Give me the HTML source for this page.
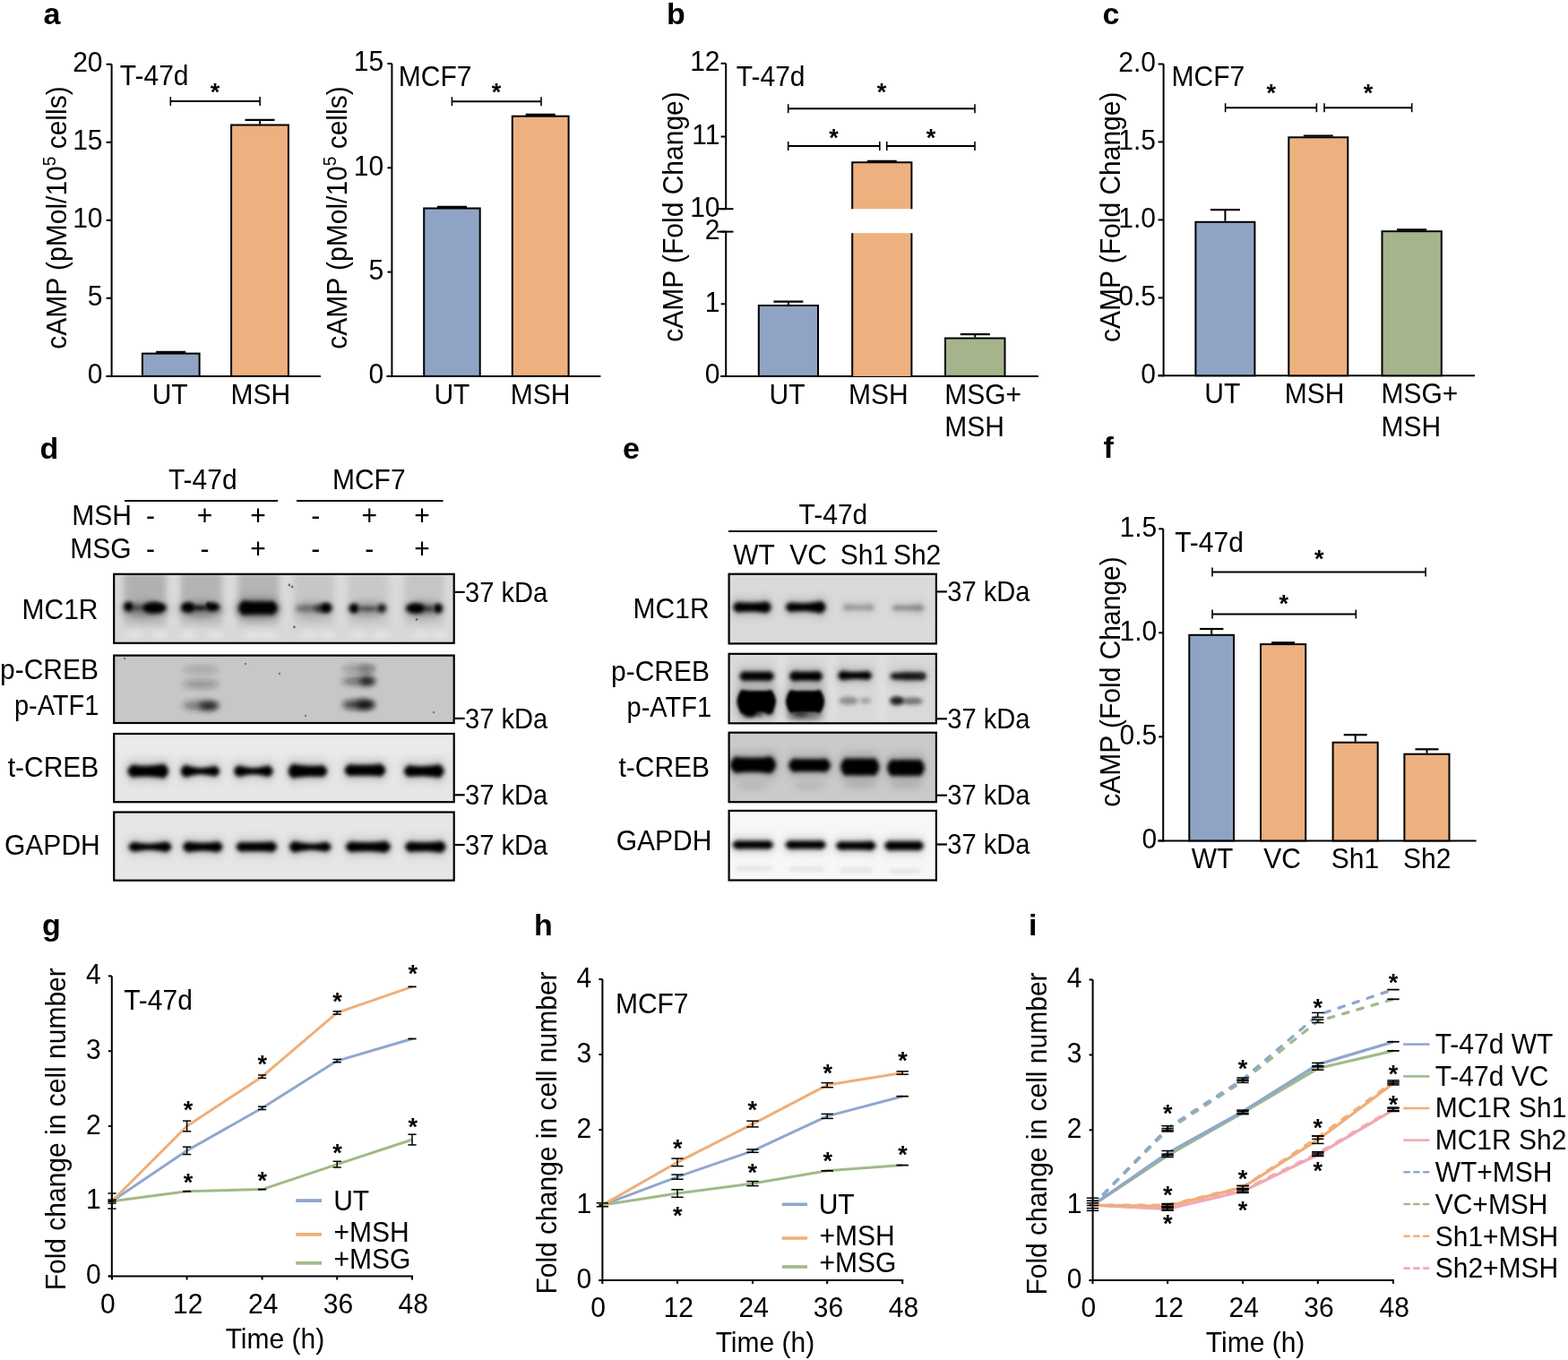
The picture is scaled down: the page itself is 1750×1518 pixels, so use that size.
<!DOCTYPE html>
<html><head><meta charset="utf-8"><title>Figure</title>
<style>html,body{margin:0;padding:0;background:#fff;} svg{display:block;} text{font-family:"Liberation Sans", Arial, Helvetica, sans-serif;fill:#000;}</style>
</head><body>
<svg width="1750" height="1518" viewBox="0 0 1750 1518">
<rect width="1750" height="1518" fill="#fff"/>
<defs>
<filter id="b1" x="-60%" y="-250%" width="220%" height="600%"><feGaussianBlur stdDeviation="0.7"/></filter>
<filter id="b15" x="-60%" y="-250%" width="220%" height="600%"><feGaussianBlur stdDeviation="1.5"/></filter>
<filter id="b2" x="-60%" y="-250%" width="220%" height="600%"><feGaussianBlur stdDeviation="2"/></filter>
<filter id="b3" x="-60%" y="-250%" width="220%" height="600%"><feGaussianBlur stdDeviation="3"/></filter>
<filter id="b4" x="-60%" y="-250%" width="220%" height="600%"><feGaussianBlur stdDeviation="4"/></filter>
<filter id="b5" x="-60%" y="-250%" width="220%" height="600%"><feGaussianBlur stdDeviation="5"/></filter>
</defs>
<text transform="translate(48.5,26.5) scale(1,1.0)" font-size="34" text-anchor="start" font-weight="bold" >a</text>
<line x1="124.6" y1="71.7" x2="124.6" y2="420.9" stroke="#000" stroke-width="2" />
<line x1="118.6" y1="419.9" x2="124.6" y2="419.9" stroke="#000" stroke-width="2" />
<text transform="translate(114.5,428.3) scale(1,1.05)" font-size="30" text-anchor="end" >0</text>
<line x1="118.6" y1="332.8" x2="124.6" y2="332.8" stroke="#000" stroke-width="2" />
<text transform="translate(114.5,341.2) scale(1,1.05)" font-size="30" text-anchor="end" >5</text>
<line x1="118.6" y1="245.8" x2="124.6" y2="245.8" stroke="#000" stroke-width="2" />
<text transform="translate(114.5,254.2) scale(1,1.05)" font-size="30" text-anchor="end" >10</text>
<line x1="118.6" y1="158.8" x2="124.6" y2="158.8" stroke="#000" stroke-width="2" />
<text transform="translate(114.5,167.2) scale(1,1.05)" font-size="30" text-anchor="end" >15</text>
<line x1="118.6" y1="71.7" x2="124.6" y2="71.7" stroke="#000" stroke-width="2" />
<text transform="translate(114.5,80.1) scale(1,1.05)" font-size="30" text-anchor="end" >20</text>
<line x1="118.6" y1="419.9" x2="357.9" y2="419.9" stroke="#000" stroke-width="2" />
<line x1="190.8" y1="393.6" x2="190.8" y2="392.9" stroke="#000" stroke-width="2" />
<line x1="174.2" y1="392.9" x2="207.2" y2="392.9" stroke="#000" stroke-width="2.2" />
<rect x="158.9" y="394.6" width="63.7" height="25.3" fill="#8FA4C4" stroke="#000" stroke-width="2"/>
<line x1="290.0" y1="138.5" x2="290.0" y2="133.8" stroke="#000" stroke-width="2" />
<line x1="273.5" y1="133.8" x2="306.5" y2="133.8" stroke="#000" stroke-width="2.2" />
<rect x="258.1" y="139.5" width="63.8" height="280.4" fill="#EDB17F" stroke="#000" stroke-width="2"/>
<line x1="190.3" y1="113.1" x2="290.1" y2="113.1" stroke="#000" stroke-width="2" />
<line x1="190.3" y1="108.1" x2="190.3" y2="118.1" stroke="#000" stroke-width="1.6" />
<line x1="290.1" y1="108.1" x2="290.1" y2="118.1" stroke="#000" stroke-width="1.6" />
<text x="240.0" y="112.3" font-size="27" font-weight="bold" text-anchor="middle">*</text>
<text transform="translate(133.8,95.3) scale(1,1.05)" font-size="30" text-anchor="start" >T-47d</text>
<text transform="translate(189.7,450.5) scale(1,1.05)" font-size="30" text-anchor="middle" >UT</text>
<text transform="translate(290.8,450.5) scale(1,1.05)" font-size="30" text-anchor="middle" >MSH</text>
<text transform="translate(73.5,243.0) rotate(-90) scale(1,1.05)" font-size="30" text-anchor="middle">cAMP (pMol/10<tspan font-size="19" dy="-11">5</tspan><tspan dy="11"> cells)</tspan></text>
<line x1="437.4" y1="71.0" x2="437.4" y2="420.9" stroke="#000" stroke-width="2" />
<line x1="432.4" y1="419.9" x2="437.4" y2="419.9" stroke="#000" stroke-width="2" />
<text transform="translate(428.1,428.3) scale(1,1.05)" font-size="30" text-anchor="end" >0</text>
<line x1="432.4" y1="303.6" x2="437.4" y2="303.6" stroke="#000" stroke-width="2" />
<text transform="translate(428.1,312.0) scale(1,1.05)" font-size="30" text-anchor="end" >5</text>
<line x1="432.4" y1="187.3" x2="437.4" y2="187.3" stroke="#000" stroke-width="2" />
<text transform="translate(428.1,195.7) scale(1,1.05)" font-size="30" text-anchor="end" >10</text>
<line x1="432.4" y1="71.0" x2="437.4" y2="71.0" stroke="#000" stroke-width="2" />
<text transform="translate(428.1,79.4) scale(1,1.05)" font-size="30" text-anchor="end" >15</text>
<line x1="431.4" y1="419.9" x2="670.4" y2="419.9" stroke="#000" stroke-width="2" />
<line x1="504.4" y1="231.5" x2="504.4" y2="230.8" stroke="#000" stroke-width="2" />
<line x1="487.9" y1="230.8" x2="521.0" y2="230.8" stroke="#000" stroke-width="2.2" />
<rect x="473.2" y="232.5" width="62.5" height="187.4" fill="#8FA4C4" stroke="#000" stroke-width="2"/>
<line x1="603.2" y1="128.7" x2="603.2" y2="127.9" stroke="#000" stroke-width="2" />
<line x1="586.7" y1="127.9" x2="619.7" y2="127.9" stroke="#000" stroke-width="2.2" />
<rect x="571.8" y="129.7" width="62.8" height="290.2" fill="#EDB17F" stroke="#000" stroke-width="2"/>
<line x1="504.4" y1="113.2" x2="604.0" y2="113.2" stroke="#000" stroke-width="2" />
<line x1="504.4" y1="108.2" x2="504.4" y2="118.2" stroke="#000" stroke-width="1.6" />
<line x1="604.0" y1="108.2" x2="604.0" y2="118.2" stroke="#000" stroke-width="1.6" />
<text x="554.0" y="112.3" font-size="27" font-weight="bold" text-anchor="middle">*</text>
<text transform="translate(444.8,95.5) scale(1,1.05)" font-size="30" text-anchor="start" >MCF7</text>
<text transform="translate(504.4,450.5) scale(1,1.05)" font-size="30" text-anchor="middle" >UT</text>
<text transform="translate(603.2,450.5) scale(1,1.05)" font-size="30" text-anchor="middle" >MSH</text>
<text transform="translate(386.5,243.0) rotate(-90) scale(1,1.05)" font-size="30" text-anchor="middle">cAMP (pMol/10<tspan font-size="19" dy="-11">5</tspan><tspan dy="11"> cells)</tspan></text>
<text transform="translate(744.0,26.5) scale(1,1.0)" font-size="34" text-anchor="start" font-weight="bold" >b</text>
<line x1="810.2" y1="70.8" x2="810.2" y2="233.2" stroke="#000" stroke-width="2" />
<line x1="810.2" y1="258.6" x2="810.2" y2="420.9" stroke="#000" stroke-width="2" />
<line x1="804.6" y1="70.8" x2="810.2" y2="70.8" stroke="#000" stroke-width="2" />
<text transform="translate(803.5,79.2) scale(1,1.05)" font-size="30" text-anchor="end" >12</text>
<line x1="804.6" y1="152.5" x2="810.2" y2="152.5" stroke="#000" stroke-width="2" />
<text transform="translate(803.5,160.9) scale(1,1.05)" font-size="30" text-anchor="end" >11</text>
<line x1="804.6" y1="233.2" x2="810.2" y2="233.2" stroke="#000" stroke-width="2" />
<text transform="translate(803.5,241.6) scale(1,1.05)" font-size="30" text-anchor="end" >10</text>
<line x1="804.6" y1="258.6" x2="810.2" y2="258.6" stroke="#000" stroke-width="2" />
<text transform="translate(803.5,267.0) scale(1,1.05)" font-size="30" text-anchor="end" >2</text>
<line x1="804.6" y1="339.3" x2="810.2" y2="339.3" stroke="#000" stroke-width="2" />
<text transform="translate(803.5,347.7) scale(1,1.05)" font-size="30" text-anchor="end" >1</text>
<line x1="804.6" y1="419.9" x2="810.2" y2="419.9" stroke="#000" stroke-width="2" />
<text transform="translate(803.5,428.3) scale(1,1.05)" font-size="30" text-anchor="end" >0</text>
<line x1="800.3" y1="233.2" x2="818.5" y2="233.2" stroke="#000" stroke-width="2" />
<line x1="800.3" y1="258.6" x2="818.5" y2="258.6" stroke="#000" stroke-width="2" />
<line x1="804.2" y1="419.9" x2="1159.0" y2="419.9" stroke="#000" stroke-width="2" />
<line x1="879.9" y1="340.0" x2="879.9" y2="336.6" stroke="#000" stroke-width="2" />
<line x1="863.4" y1="336.6" x2="896.4" y2="336.6" stroke="#000" stroke-width="2.2" />
<rect x="846.8" y="341.0" width="66.2" height="78.9" fill="#8FA4C4" stroke="#000" stroke-width="2"/>
<rect x="951.2" y="181.2" width="66.19999999999993" height="52" fill="#EDB17F"/>
<path d="M951.2 233.2 V181.2 H1017.4 V233.2" fill="none" stroke="#000" stroke-width="2"/>
<line x1="967.8" y1="179.8" x2="1000.8" y2="179.8" stroke="#000" stroke-width="2" />
<rect x="951.2" y="260.2" width="66.19999999999993" height="159.7" fill="#EDB17F"/>
<path d="M951.2 260.2 V419.9 M1017.4 260.2 V419.9" fill="none" stroke="#000" stroke-width="2"/>
<line x1="1088.2" y1="376.5" x2="1088.2" y2="373.2" stroke="#000" stroke-width="2" />
<line x1="1071.8" y1="373.2" x2="1104.8" y2="373.2" stroke="#000" stroke-width="2.2" />
<rect x="1055.0" y="377.5" width="66.5" height="42.4" fill="#A5B48B" stroke="#000" stroke-width="2"/>
<line x1="879.7" y1="121.2" x2="1088.0" y2="121.2" stroke="#000" stroke-width="2" />
<line x1="879.7" y1="116.2" x2="879.7" y2="126.2" stroke="#000" stroke-width="1.6" />
<line x1="1088.0" y1="116.2" x2="1088.0" y2="126.2" stroke="#000" stroke-width="1.6" />
<text x="984.0" y="111.6" font-size="27" font-weight="bold" text-anchor="middle">*</text>
<line x1="879.7" y1="163.0" x2="981.8" y2="163.0" stroke="#000" stroke-width="2" />
<line x1="879.7" y1="158.0" x2="879.7" y2="168.0" stroke="#000" stroke-width="1.6" />
<line x1="981.8" y1="158.0" x2="981.8" y2="168.0" stroke="#000" stroke-width="1.6" />
<line x1="989.7" y1="163.0" x2="1088.0" y2="163.0" stroke="#000" stroke-width="2" />
<line x1="989.7" y1="158.0" x2="989.7" y2="168.0" stroke="#000" stroke-width="1.6" />
<line x1="1088.0" y1="158.0" x2="1088.0" y2="168.0" stroke="#000" stroke-width="1.6" />
<text x="930.5" y="162.8" font-size="27" font-weight="bold" text-anchor="middle">*</text>
<text x="1039.0" y="162.8" font-size="27" font-weight="bold" text-anchor="middle">*</text>
<text transform="translate(821.8,95.5) scale(1,1.05)" font-size="30" text-anchor="start" >T-47d</text>
<text transform="translate(878.5,450.5) scale(1,1.05)" font-size="30" text-anchor="middle" >UT</text>
<text transform="translate(980.3,450.5) scale(1,1.05)" font-size="30" text-anchor="middle" >MSH</text>
<text transform="translate(1054.3,450.5) scale(1,1.05)" font-size="30" text-anchor="start" >MSG+</text>
<text transform="translate(1054.3,487.0) scale(1,1.05)" font-size="30" text-anchor="start" >MSH</text>
<text transform="translate(761.5,242.0) rotate(-90) scale(1,1.05)" font-size="30" text-anchor="middle">cAMP (Fold Change)</text>
<text transform="translate(1230.5,26.5) scale(1,1.0)" font-size="34" text-anchor="start" font-weight="bold" >c</text>
<line x1="1298.6" y1="71.5" x2="1298.6" y2="420.3" stroke="#000" stroke-width="2" />
<line x1="1292.6" y1="419.3" x2="1298.6" y2="419.3" stroke="#000" stroke-width="2" />
<text transform="translate(1289.9,427.7) scale(1,1.05)" font-size="30" text-anchor="end" >0</text>
<line x1="1292.6" y1="332.4" x2="1298.6" y2="332.4" stroke="#000" stroke-width="2" />
<text transform="translate(1289.9,340.8) scale(1,1.05)" font-size="30" text-anchor="end" >0.5</text>
<line x1="1292.6" y1="245.4" x2="1298.6" y2="245.4" stroke="#000" stroke-width="2" />
<text transform="translate(1289.9,253.8) scale(1,1.05)" font-size="30" text-anchor="end" >1.0</text>
<line x1="1292.6" y1="158.4" x2="1298.6" y2="158.4" stroke="#000" stroke-width="2" />
<text transform="translate(1289.9,166.8) scale(1,1.05)" font-size="30" text-anchor="end" >1.5</text>
<line x1="1292.6" y1="71.5" x2="1298.6" y2="71.5" stroke="#000" stroke-width="2" />
<text transform="translate(1289.9,79.9) scale(1,1.05)" font-size="30" text-anchor="end" >2.0</text>
<line x1="1292.6" y1="419.3" x2="1646.0" y2="419.3" stroke="#000" stroke-width="2" />
<line x1="1367.4" y1="246.8" x2="1367.4" y2="234.2" stroke="#000" stroke-width="2" />
<line x1="1350.9" y1="234.2" x2="1383.9" y2="234.2" stroke="#000" stroke-width="2.2" />
<rect x="1334.4" y="247.8" width="66.0" height="171.5" fill="#8FA4C4" stroke="#000" stroke-width="2"/>
<line x1="1471.3" y1="152.3" x2="1471.3" y2="151.5" stroke="#000" stroke-width="2" />
<line x1="1454.8" y1="151.5" x2="1487.8" y2="151.5" stroke="#000" stroke-width="2.2" />
<rect x="1438.3" y="153.3" width="66.0" height="266.0" fill="#EDB17F" stroke="#000" stroke-width="2"/>
<line x1="1575.6" y1="257.2" x2="1575.6" y2="256.4" stroke="#000" stroke-width="2" />
<line x1="1559.1" y1="256.4" x2="1592.1" y2="256.4" stroke="#000" stroke-width="2.2" />
<rect x="1542.5" y="258.2" width="66.3" height="161.1" fill="#A5B48B" stroke="#000" stroke-width="2"/>
<line x1="1367.6" y1="120.2" x2="1469.4" y2="120.2" stroke="#000" stroke-width="2" />
<line x1="1367.6" y1="115.2" x2="1367.6" y2="125.2" stroke="#000" stroke-width="1.6" />
<line x1="1469.4" y1="115.2" x2="1469.4" y2="125.2" stroke="#000" stroke-width="1.6" />
<line x1="1478.0" y1="120.2" x2="1575.7" y2="120.2" stroke="#000" stroke-width="2" />
<line x1="1478.0" y1="115.2" x2="1478.0" y2="125.2" stroke="#000" stroke-width="1.6" />
<line x1="1575.7" y1="115.2" x2="1575.7" y2="125.2" stroke="#000" stroke-width="1.6" />
<text x="1418.8" y="113.3" font-size="27" font-weight="bold" text-anchor="middle">*</text>
<text x="1526.9" y="113.3" font-size="27" font-weight="bold" text-anchor="middle">*</text>
<text transform="translate(1307.6,95.8) scale(1,1.05)" font-size="30" text-anchor="start" >MCF7</text>
<text transform="translate(1364.3,449.8) scale(1,1.05)" font-size="30" text-anchor="middle" >UT</text>
<text transform="translate(1467.0,449.8) scale(1,1.05)" font-size="30" text-anchor="middle" >MSH</text>
<text transform="translate(1541.4,449.8) scale(1,1.05)" font-size="30" text-anchor="start" >MSG+</text>
<text transform="translate(1541.4,487.0) scale(1,1.05)" font-size="30" text-anchor="start" >MSH</text>
<text transform="translate(1249.8,242.3) rotate(-90) scale(1,1.05)" font-size="30" text-anchor="middle">cAMP (Fold Change)</text>
<text transform="translate(1231.5,511.0) scale(1,1.0)" font-size="34" text-anchor="start" font-weight="bold" >f</text>
<line x1="1298.2" y1="590.3" x2="1298.2" y2="939.4" stroke="#000" stroke-width="2" />
<line x1="1293.2" y1="938.4" x2="1298.2" y2="938.4" stroke="#000" stroke-width="2" />
<text transform="translate(1291.2,946.8) scale(1,1.05)" font-size="30" text-anchor="end" >0</text>
<line x1="1293.2" y1="822.4" x2="1298.2" y2="822.4" stroke="#000" stroke-width="2" />
<text transform="translate(1291.2,830.8) scale(1,1.05)" font-size="30" text-anchor="end" >0.5</text>
<line x1="1293.2" y1="706.3" x2="1298.2" y2="706.3" stroke="#000" stroke-width="2" />
<text transform="translate(1291.2,714.7) scale(1,1.05)" font-size="30" text-anchor="end" >1.0</text>
<line x1="1293.2" y1="590.3" x2="1298.2" y2="590.3" stroke="#000" stroke-width="2" />
<text transform="translate(1291.2,598.7) scale(1,1.05)" font-size="30" text-anchor="end" >1.5</text>
<line x1="1292.2" y1="938.4" x2="1647.6" y2="938.4" stroke="#000" stroke-width="2" />
<line x1="1352.2" y1="707.8" x2="1352.2" y2="702.0" stroke="#000" stroke-width="2" />
<line x1="1339.0" y1="702.0" x2="1365.4" y2="702.0" stroke="#000" stroke-width="2.2" />
<rect x="1327.3" y="708.8" width="49.7" height="229.6" fill="#8FA4C4" stroke="#000" stroke-width="2"/>
<line x1="1432.1" y1="718.1" x2="1432.1" y2="717.3" stroke="#000" stroke-width="2" />
<line x1="1419.1" y1="717.3" x2="1445.1" y2="717.3" stroke="#000" stroke-width="2.2" />
<rect x="1407.0" y="719.1" width="50.2" height="219.3" fill="#EDB17F" stroke="#000" stroke-width="2"/>
<line x1="1512.7" y1="827.7" x2="1512.7" y2="820.2" stroke="#000" stroke-width="2" />
<line x1="1499.7" y1="820.2" x2="1525.7" y2="820.2" stroke="#000" stroke-width="2.2" />
<rect x="1487.6" y="828.7" width="50.1" height="109.7" fill="#EDB17F" stroke="#000" stroke-width="2"/>
<line x1="1592.5" y1="840.7" x2="1592.5" y2="836.3" stroke="#000" stroke-width="2" />
<line x1="1579.5" y1="836.3" x2="1605.5" y2="836.3" stroke="#000" stroke-width="2.2" />
<rect x="1567.4" y="841.7" width="50.1" height="96.7" fill="#EDB17F" stroke="#000" stroke-width="2"/>
<line x1="1353.0" y1="638.6" x2="1591.1" y2="638.6" stroke="#000" stroke-width="2" />
<line x1="1353.0" y1="633.6" x2="1353.0" y2="643.6" stroke="#000" stroke-width="1.6" />
<line x1="1591.1" y1="633.6" x2="1591.1" y2="643.6" stroke="#000" stroke-width="1.6" />
<text x="1472.2" y="632.6" font-size="27" font-weight="bold" text-anchor="middle">*</text>
<line x1="1353.0" y1="685.5" x2="1513.3" y2="685.5" stroke="#000" stroke-width="2" />
<line x1="1353.0" y1="680.5" x2="1353.0" y2="690.5" stroke="#000" stroke-width="1.6" />
<line x1="1513.3" y1="680.5" x2="1513.3" y2="690.5" stroke="#000" stroke-width="1.6" />
<text x="1432.8" y="682.8" font-size="27" font-weight="bold" text-anchor="middle">*</text>
<text transform="translate(1311.2,616.3) scale(1,1.05)" font-size="30" text-anchor="start" >T-47d</text>
<text transform="translate(1353.0,969.0) scale(1,1.05)" font-size="30" text-anchor="middle" >WT</text>
<text transform="translate(1431.0,969.0) scale(1,1.05)" font-size="30" text-anchor="middle" >VC</text>
<text transform="translate(1512.5,969.0) scale(1,1.05)" font-size="30" text-anchor="middle" >Sh1</text>
<text transform="translate(1592.7,969.0) scale(1,1.05)" font-size="30" text-anchor="middle" >Sh2</text>
<text transform="translate(1250.0,761.0) rotate(-90) scale(1,1.05)" font-size="30" text-anchor="middle">cAMP (Fold Change)</text>
<text transform="translate(44.5,512.0) scale(1,1.0)" font-size="34" text-anchor="start" font-weight="bold" >d</text>
<text transform="translate(226.3,545.8) scale(1,1.05)" font-size="30" text-anchor="middle" >T-47d</text>
<line x1="139.0" y1="559.0" x2="310.0" y2="559.0" stroke="#000" stroke-width="2" />
<text transform="translate(411.8,545.8) scale(1,1.05)" font-size="30" text-anchor="middle" >MCF7</text>
<line x1="331.0" y1="559.0" x2="494.5" y2="559.0" stroke="#000" stroke-width="2" />
<text transform="translate(147.0,586.0) scale(1,1.05)" font-size="30" text-anchor="end" >MSH</text>
<text transform="translate(146.5,622.8) scale(1,1.05)" font-size="30" text-anchor="end" >MSG</text>
<text transform="translate(168.0,586.0) scale(1,1.05)" font-size="30" text-anchor="middle" >-</text>
<text transform="translate(228.6,586.0) scale(1,1.05)" font-size="30" text-anchor="middle" >+</text>
<text transform="translate(287.9,586.0) scale(1,1.05)" font-size="30" text-anchor="middle" >+</text>
<text transform="translate(352.2,586.0) scale(1,1.05)" font-size="30" text-anchor="middle" >-</text>
<text transform="translate(412.2,586.0) scale(1,1.05)" font-size="30" text-anchor="middle" >+</text>
<text transform="translate(471.1,586.0) scale(1,1.05)" font-size="30" text-anchor="middle" >+</text>
<text transform="translate(168.0,623.4) scale(1,1.05)" font-size="30" text-anchor="middle" >-</text>
<text transform="translate(228.6,623.4) scale(1,1.05)" font-size="30" text-anchor="middle" >-</text>
<text transform="translate(287.9,623.4) scale(1,1.05)" font-size="30" text-anchor="middle" >+</text>
<text transform="translate(352.2,623.4) scale(1,1.05)" font-size="30" text-anchor="middle" >-</text>
<text transform="translate(412.2,623.4) scale(1,1.05)" font-size="30" text-anchor="middle" >-</text>
<text transform="translate(471.1,623.4) scale(1,1.05)" font-size="30" text-anchor="middle" >+</text>
<clipPath id="cp1"><rect x="127.2" y="640.8" width="379.5" height="77.0"/></clipPath>
<g clip-path="url(#cp1)"><rect x="126.2" y="639.8" width="381.5" height="79.0" fill="#D3D3D3"/>
<rect x="138" y="638" width="48" height="36" fill="#B0B0B0" filter="url(#b4)"/>
<rect x="138" y="672" width="48" height="30" fill="#BFBFBF" filter="url(#b4)"/>
<rect x="200" y="638" width="48" height="36" fill="#B3B3B3" filter="url(#b4)"/>
<rect x="200" y="672" width="48" height="30" fill="#C1C1C1" filter="url(#b4)"/>
<rect x="265" y="638" width="47" height="36" fill="#B5B5B5" filter="url(#b4)"/>
<rect x="265" y="672" width="47" height="30" fill="#C3C3C3" filter="url(#b4)"/>
<rect x="328" y="638" width="44" height="36" fill="#C6C6C6" filter="url(#b4)"/>
<rect x="328" y="672" width="44" height="30" fill="#C9C9C9" filter="url(#b4)"/>
<rect x="388" y="638" width="44" height="36" fill="#C8C8C8" filter="url(#b4)"/>
<rect x="388" y="672" width="44" height="30" fill="#CBCBCB" filter="url(#b4)"/>
<rect x="452" y="638" width="43" height="36" fill="#C5C5C5" filter="url(#b4)"/>
<rect x="452" y="672" width="43" height="30" fill="#C9C9C9" filter="url(#b4)"/>
<rect x="122" y="636" width="12" height="90" fill="#DADADA" filter="url(#b3)"/>
<rect x="188" y="636" width="12" height="90" fill="#DADADA" filter="url(#b3)"/>
<rect x="251" y="636" width="12" height="90" fill="#DADADA" filter="url(#b3)"/>
<rect x="314" y="636" width="12" height="90" fill="#DADADA" filter="url(#b3)"/>
<rect x="375" y="636" width="12" height="90" fill="#DADADA" filter="url(#b3)"/>
<rect x="437" y="636" width="12" height="90" fill="#DADADA" filter="url(#b3)"/>
<rect x="498" y="636" width="12" height="90" fill="#DADADA" filter="url(#b3)"/>
<rect x="126" y="700" width="382" height="20" fill="#D8D8D8" filter="url(#b4)"/>
<ellipse cx="150.0" cy="709.0" rx="9.0" ry="5.0" fill="#E6E6E6" fill-opacity="0.8" filter="url(#b3)"/>
<ellipse cx="178.0" cy="709.0" rx="9.0" ry="5.0" fill="#E6E6E6" fill-opacity="0.8" filter="url(#b3)"/>
<ellipse cx="210.0" cy="709.0" rx="9.0" ry="5.0" fill="#E6E6E6" fill-opacity="0.8" filter="url(#b3)"/>
<ellipse cx="240.0" cy="709.0" rx="9.0" ry="5.0" fill="#E6E6E6" fill-opacity="0.8" filter="url(#b3)"/>
<ellipse cx="282.0" cy="709.0" rx="9.0" ry="5.0" fill="#E6E6E6" fill-opacity="0.8" filter="url(#b3)"/>
<ellipse cx="300.0" cy="709.0" rx="9.0" ry="5.0" fill="#E6E6E6" fill-opacity="0.8" filter="url(#b3)"/>
<ellipse cx="345.0" cy="709.0" rx="9.0" ry="5.0" fill="#E6E6E6" fill-opacity="0.8" filter="url(#b3)"/>
<ellipse cx="365.0" cy="709.0" rx="9.0" ry="5.0" fill="#E6E6E6" fill-opacity="0.8" filter="url(#b3)"/>
<ellipse cx="400.0" cy="709.0" rx="9.0" ry="5.0" fill="#E6E6E6" fill-opacity="0.8" filter="url(#b3)"/>
<ellipse cx="425.0" cy="709.0" rx="9.0" ry="5.0" fill="#E6E6E6" fill-opacity="0.8" filter="url(#b3)"/>
<ellipse cx="470.0" cy="709.0" rx="9.0" ry="5.0" fill="#E6E6E6" fill-opacity="0.8" filter="url(#b3)"/>
<ellipse cx="490.0" cy="709.0" rx="9.0" ry="5.0" fill="#E6E6E6" fill-opacity="0.8" filter="url(#b3)"/>
<ellipse cx="162.0" cy="680.0" rx="26.0" ry="9.0" fill="#000" fill-opacity="0.35" filter="url(#b4)"/>
<ellipse cx="224.0" cy="680.0" rx="25.0" ry="9.0" fill="#000" fill-opacity="0.35" filter="url(#b4)"/>
<ellipse cx="288.0" cy="680.0" rx="25.0" ry="9.0" fill="#000" fill-opacity="0.4" filter="url(#b4)"/>
<ellipse cx="350.0" cy="680.0" rx="22.0" ry="9.0" fill="#000" fill-opacity="0.2" filter="url(#b4)"/>
<ellipse cx="410.0" cy="680.0" rx="22.0" ry="9.0" fill="#000" fill-opacity="0.25" filter="url(#b4)"/>
<ellipse cx="473.0" cy="680.0" rx="22.0" ry="9.0" fill="#000" fill-opacity="0.3" filter="url(#b4)"/>
<ellipse cx="143.5" cy="677.0" rx="5.5" ry="5.5" fill="#000" fill-opacity="1.0" filter="url(#b2)"/>
<ellipse cx="153.0" cy="678.0" rx="6.0" ry="3.0" fill="#222" fill-opacity="0.6" filter="url(#b2)"/>
<ellipse cx="172.0" cy="678.3" rx="13.5" ry="6.5" fill="#000" fill-opacity="1.0" filter="url(#b2)"/>
<ellipse cx="210.0" cy="678.0" rx="8.0" ry="6.0" fill="#000" fill-opacity="1.0" filter="url(#b2)"/>
<ellipse cx="223.0" cy="678.5" rx="8.0" ry="2.8" fill="#000" fill-opacity="0.9" filter="url(#b2)"/>
<ellipse cx="237.0" cy="677.5" rx="8.0" ry="5.0" fill="#000" fill-opacity="1.0" filter="url(#b2)"/>
<ellipse cx="232.6" cy="674.5" rx="1.8" ry="2.2" fill="#000" fill-opacity="1" filter="url(#b15)"/>
<path d="M266.5,678.5 C266.5,676.0 269.0,672.2 270.8,671.0 C272.6,669.8 274.4,671.1 277.2,671.2 C280.1,671.3 284.4,671.5 288.0,671.5 C291.6,671.5 295.9,671.5 298.8,671.5 C301.6,671.5 303.4,670.3 305.2,671.5 C307.0,672.7 309.5,676.2 309.5,678.5 C309.5,680.8 307.0,684.3 305.2,685.5 C303.4,686.7 301.6,685.5 298.8,685.5 C295.9,685.5 291.6,685.5 288.0,685.5 C284.4,685.5 280.1,685.7 277.2,685.8 C274.4,685.9 272.6,687.2 270.8,686.0 C269.0,684.8 266.5,681.0 266.5,678.5Z" fill="#000" fill-opacity="0.22" filter="url(#b4)" transform="translate(288.0,678.5) scale(1.08,1.5) translate(-288.0,-678.5)"/>
<path d="M266.5,678.5 C266.5,676.0 269.0,672.2 270.8,671.0 C272.6,669.8 274.4,671.1 277.2,671.2 C280.1,671.3 284.4,671.5 288.0,671.5 C291.6,671.5 295.9,671.5 298.8,671.5 C301.6,671.5 303.4,670.3 305.2,671.5 C307.0,672.7 309.5,676.2 309.5,678.5 C309.5,680.8 307.0,684.3 305.2,685.5 C303.4,686.7 301.6,685.5 298.8,685.5 C295.9,685.5 291.6,685.5 288.0,685.5 C284.4,685.5 280.1,685.7 277.2,685.8 C274.4,685.9 272.6,687.2 270.8,686.0 C269.0,684.8 266.5,681.0 266.5,678.5Z" fill="#000" fill-opacity="1" filter="url(#b2)"/>
<ellipse cx="342.0" cy="679.0" rx="12.0" ry="4.0" fill="#333" fill-opacity="0.45" filter="url(#b2)"/>
<ellipse cx="356.0" cy="679.0" rx="6.0" ry="4.5" fill="#111" fill-opacity="0.7" filter="url(#b2)"/>
<ellipse cx="364.0" cy="678.5" rx="6.5" ry="6.0" fill="#000" fill-opacity="1.0" filter="url(#b2)"/>
<ellipse cx="395.0" cy="679.0" rx="5.5" ry="5.5" fill="#000" fill-opacity="1.0" filter="url(#b2)"/>
<ellipse cx="410.0" cy="679.5" rx="12.0" ry="2.6" fill="#222" fill-opacity="0.7" filter="url(#b2)"/>
<ellipse cx="426.0" cy="679.0" rx="5.0" ry="5.0" fill="#111" fill-opacity="0.9" filter="url(#b2)"/>
<ellipse cx="464.0" cy="679.0" rx="11.0" ry="6.0" fill="#000" fill-opacity="1.0" filter="url(#b2)"/>
<ellipse cx="478.0" cy="679.5" rx="6.0" ry="3.5" fill="#222" fill-opacity="0.75" filter="url(#b2)"/>
<ellipse cx="489.0" cy="679.0" rx="5.0" ry="5.5" fill="#000" fill-opacity="1.0" filter="url(#b2)"/>
<ellipse cx="322.8" cy="653.0" rx="1.4" ry="1.4" fill="#444" fill-opacity="0.7" filter="url(#b1)"/>
<ellipse cx="326.0" cy="655.0" rx="1.4" ry="1.4" fill="#444" fill-opacity="0.7" filter="url(#b1)"/>
<ellipse cx="328.5" cy="700.0" rx="1.4" ry="1.4" fill="#444" fill-opacity="0.7" filter="url(#b1)"/>
<ellipse cx="465.0" cy="691.5" rx="1.4" ry="1.4" fill="#444" fill-opacity="0.7" filter="url(#b1)"/>
</g>
<rect x="127.2" y="640.8" width="379.5" height="77.0" fill="none" stroke="#000" stroke-width="2.2"/>
<clipPath id="cp2"><rect x="127.2" y="731.6" width="379.5" height="75.39999999999998"/></clipPath>
<g clip-path="url(#cp2)"><rect x="126.2" y="730.6" width="381.5" height="77.39999999999998" fill="#C7C7C7"/>
<ellipse cx="224.0" cy="747.7" rx="20.0" ry="4.5" fill="#222" fill-opacity="0.2" filter="url(#b3)"/>
<ellipse cx="224.0" cy="763.7" rx="20.0" ry="4.8" fill="#222" fill-opacity="0.3" filter="url(#b3)"/>
<ellipse cx="224.0" cy="787.5" rx="20.0" ry="5.5" fill="#222" fill-opacity="0.45" filter="url(#b3)"/>
<ellipse cx="233.0" cy="787.8" rx="11.0" ry="5.0" fill="#000" fill-opacity="0.7" filter="url(#b3)"/>
<ellipse cx="400.0" cy="746.6" rx="18.0" ry="4.5" fill="#222" fill-opacity="0.3" filter="url(#b3)"/>
<ellipse cx="410.0" cy="746.6" rx="9.0" ry="4.2" fill="#111" fill-opacity="0.35" filter="url(#b3)"/>
<ellipse cx="400.0" cy="760.3" rx="18.0" ry="5.0" fill="#222" fill-opacity="0.5" filter="url(#b3)"/>
<ellipse cx="410.0" cy="760.3" rx="9.0" ry="5.0" fill="#000" fill-opacity="0.75" filter="url(#b3)"/>
<ellipse cx="400.0" cy="786.6" rx="18.0" ry="5.5" fill="#111" fill-opacity="0.75" filter="url(#b3)"/>
<ellipse cx="408.0" cy="786.6" rx="10.0" ry="5.0" fill="#000" fill-opacity="0.75" filter="url(#b3)"/>
<ellipse cx="139.0" cy="735.0" rx="1.2" ry="1.2" fill="#444" fill-opacity="0.6" filter="url(#b1)"/>
<ellipse cx="274.0" cy="741.0" rx="1.2" ry="1.2" fill="#444" fill-opacity="0.6" filter="url(#b1)"/>
<ellipse cx="312.0" cy="752.0" rx="1.2" ry="1.2" fill="#444" fill-opacity="0.6" filter="url(#b1)"/>
<ellipse cx="341.0" cy="799.0" rx="1.2" ry="1.2" fill="#444" fill-opacity="0.6" filter="url(#b1)"/>
<ellipse cx="484.0" cy="795.0" rx="1.2" ry="1.2" fill="#444" fill-opacity="0.6" filter="url(#b1)"/>
</g>
<rect x="127.2" y="731.6" width="379.5" height="75.39999999999998" fill="none" stroke="#000" stroke-width="2.2"/>
<clipPath id="cp3"><rect x="127.2" y="819" width="379.5" height="76.20000000000005"/></clipPath>
<g clip-path="url(#cp3)"><rect x="126.2" y="818" width="381.5" height="78.20000000000005" fill="#E6E6E6"/>
<rect x="126" y="818" width="382" height="25" fill="#EBEBEB" filter="url(#b4)"/>
<path d="M142.4,860.7 C142.4,858.5 145.1,855.2 147.0,854.2 C148.9,853.2 150.8,854.3 153.8,854.4 C156.8,854.5 161.4,854.8 165.2,854.7 C169.0,854.6 173.6,854.1 176.6,853.8 C179.6,853.6 181.5,852.1 183.4,853.2 C185.3,854.4 188.0,858.2 188.0,860.7 C188.0,863.2 185.3,867.1 183.4,868.2 C181.5,869.4 179.6,867.9 176.6,867.6 C173.6,867.4 169.0,866.8 165.2,866.7 C161.4,866.6 156.8,866.9 153.8,867.0 C150.8,867.1 148.9,868.2 147.0,867.2 C145.1,866.2 142.4,862.9 142.4,860.7Z" fill="#000" fill-opacity="0.22" filter="url(#b4)" transform="translate(165.2,860.7) scale(1.08,1.5) translate(-165.2,-860.7)"/>
<path d="M142.4,860.7 C142.4,858.5 145.1,855.2 147.0,854.2 C148.9,853.2 150.8,854.3 153.8,854.4 C156.8,854.5 161.4,854.8 165.2,854.7 C169.0,854.6 173.6,854.1 176.6,853.8 C179.6,853.6 181.5,852.1 183.4,853.2 C185.3,854.4 188.0,858.2 188.0,860.7 C188.0,863.2 185.3,867.1 183.4,868.2 C181.5,869.4 179.6,867.9 176.6,867.6 C173.6,867.4 169.0,866.8 165.2,866.7 C161.4,866.6 156.8,866.9 153.8,867.0 C150.8,867.1 148.9,868.2 147.0,867.2 C145.1,866.2 142.4,862.9 142.4,860.7Z" fill="#000" fill-opacity="1.0" filter="url(#b2)"/>
<path d="M201.8,860.7 C201.8,858.5 204.3,855.1 206.1,854.2 C207.9,853.3 209.8,854.9 212.7,855.4 C215.5,855.9 219.9,857.1 223.5,857.2 C227.1,857.3 231.5,856.3 234.3,856.0 C237.2,855.7 239.1,854.4 240.9,855.2 C242.7,856.0 245.2,858.9 245.2,860.7 C245.2,862.5 242.7,865.4 240.9,866.2 C239.1,867.0 237.2,865.7 234.3,865.4 C231.5,865.1 227.1,864.1 223.5,864.2 C219.9,864.3 215.5,865.5 212.7,866.0 C209.8,866.5 207.9,868.1 206.1,867.2 C204.3,866.3 201.8,862.9 201.8,860.7Z" fill="#000" fill-opacity="0.22" filter="url(#b4)" transform="translate(223.5,860.7) scale(1.08,1.5) translate(-223.5,-860.7)"/>
<path d="M201.8,860.7 C201.8,858.5 204.3,855.1 206.1,854.2 C207.9,853.3 209.8,854.9 212.7,855.4 C215.5,855.9 219.9,857.1 223.5,857.2 C227.1,857.3 231.5,856.3 234.3,856.0 C237.2,855.7 239.1,854.4 240.9,855.2 C242.7,856.0 245.2,858.9 245.2,860.7 C245.2,862.5 242.7,865.4 240.9,866.2 C239.1,867.0 237.2,865.7 234.3,865.4 C231.5,865.1 227.1,864.1 223.5,864.2 C219.9,864.3 215.5,865.5 212.7,866.0 C209.8,866.5 207.9,868.1 206.1,867.2 C204.3,866.3 201.8,862.9 201.8,860.7Z" fill="#000" fill-opacity="1.0" filter="url(#b2)"/>
<path d="M261.2,860.7 C261.2,858.7 263.7,855.5 265.5,854.7 C267.3,853.9 269.2,855.3 272.1,855.7 C274.9,856.1 279.3,857.2 282.9,857.2 C286.5,857.2 290.9,856.1 293.8,855.7 C296.6,855.3 298.5,853.9 300.3,854.7 C302.1,855.5 304.6,858.7 304.6,860.7 C304.6,862.7 302.1,865.9 300.3,866.7 C298.5,867.5 296.6,866.1 293.8,865.7 C290.9,865.3 286.5,864.2 282.9,864.2 C279.3,864.2 274.9,865.3 272.1,865.7 C269.2,866.1 267.3,867.5 265.5,866.7 C263.7,865.9 261.2,862.7 261.2,860.7Z" fill="#000" fill-opacity="0.22" filter="url(#b4)" transform="translate(282.9,860.7) scale(1.08,1.5) translate(-282.9,-860.7)"/>
<path d="M261.2,860.7 C261.2,858.7 263.7,855.5 265.5,854.7 C267.3,853.9 269.2,855.3 272.1,855.7 C274.9,856.1 279.3,857.2 282.9,857.2 C286.5,857.2 290.9,856.1 293.8,855.7 C296.6,855.3 298.5,853.9 300.3,854.7 C302.1,855.5 304.6,858.7 304.6,860.7 C304.6,862.7 302.1,865.9 300.3,866.7 C298.5,867.5 296.6,866.1 293.8,865.7 C290.9,865.3 286.5,864.2 282.9,864.2 C279.3,864.2 274.9,865.3 272.1,865.7 C269.2,866.1 267.3,867.5 265.5,866.7 C263.7,865.9 261.2,862.7 261.2,860.7Z" fill="#000" fill-opacity="1.0" filter="url(#b2)"/>
<path d="M321.8,860.7 C321.8,858.2 324.3,854.4 326.1,853.2 C327.9,852.1 329.8,853.6 332.6,853.8 C335.5,854.1 339.9,854.6 343.5,854.7 C347.1,854.9 351.5,854.7 354.4,854.7 C357.2,854.7 359.1,853.7 360.9,854.7 C362.7,855.7 365.2,858.7 365.2,860.7 C365.2,862.7 362.7,865.7 360.9,866.7 C359.1,867.7 357.2,866.7 354.4,866.7 C351.5,866.7 347.1,866.6 343.5,866.7 C339.9,866.9 335.5,867.4 332.6,867.6 C329.8,867.9 327.9,869.4 326.1,868.2 C324.3,867.1 321.8,863.2 321.8,860.7Z" fill="#000" fill-opacity="0.22" filter="url(#b4)" transform="translate(343.5,860.7) scale(1.08,1.5) translate(-343.5,-860.7)"/>
<path d="M321.8,860.7 C321.8,858.2 324.3,854.4 326.1,853.2 C327.9,852.1 329.8,853.6 332.6,853.8 C335.5,854.1 339.9,854.6 343.5,854.7 C347.1,854.9 351.5,854.7 354.4,854.7 C357.2,854.7 359.1,853.7 360.9,854.7 C362.7,855.7 365.2,858.7 365.2,860.7 C365.2,862.7 362.7,865.7 360.9,866.7 C359.1,867.7 357.2,866.7 354.4,866.7 C351.5,866.7 347.1,866.6 343.5,866.7 C339.9,866.9 335.5,867.4 332.6,867.6 C329.8,867.9 327.9,869.4 326.1,868.2 C324.3,867.1 321.8,863.2 321.8,860.7Z" fill="#000" fill-opacity="1.0" filter="url(#b2)"/>
<path d="M384.6,859.8 C384.6,857.8 387.3,854.8 389.2,853.8 C391.1,852.8 393.0,853.8 396.0,853.8 C399.1,853.8 403.6,853.8 407.5,853.8 C411.3,853.8 415.8,853.6 418.9,853.5 C421.9,853.4 423.8,852.2 425.7,853.3 C427.6,854.3 430.3,857.6 430.3,859.8 C430.3,862.0 427.6,865.2 425.7,866.3 C423.8,867.3 421.9,866.2 418.9,866.1 C415.8,866.0 411.3,865.8 407.5,865.8 C403.6,865.8 399.1,865.8 396.0,865.8 C393.0,865.8 391.1,866.8 389.2,865.8 C387.3,864.8 384.6,861.8 384.6,859.8Z" fill="#000" fill-opacity="0.22" filter="url(#b4)" transform="translate(407.5,859.8) scale(1.08,1.5) translate(-407.5,-859.8)"/>
<path d="M384.6,859.8 C384.6,857.8 387.3,854.8 389.2,853.8 C391.1,852.8 393.0,853.8 396.0,853.8 C399.1,853.8 403.6,853.8 407.5,853.8 C411.3,853.8 415.8,853.6 418.9,853.5 C421.9,853.4 423.8,852.2 425.7,853.3 C427.6,854.3 430.3,857.6 430.3,859.8 C430.3,862.0 427.6,865.2 425.7,866.3 C423.8,867.3 421.9,866.2 418.9,866.1 C415.8,866.0 411.3,865.8 407.5,865.8 C403.6,865.8 399.1,865.8 396.0,865.8 C393.0,865.8 391.1,866.8 389.2,865.8 C387.3,864.8 384.6,861.8 384.6,859.8Z" fill="#000" fill-opacity="1.0" filter="url(#b2)"/>
<path d="M450.9,860.7 C450.9,858.7 453.5,855.7 455.4,854.7 C457.2,853.7 459.1,854.8 462.0,854.9 C465.0,855.0 469.5,855.3 473.2,855.2 C476.9,855.1 481.4,854.6 484.4,854.3 C487.3,854.1 489.2,852.6 491.0,853.7 C492.9,854.8 495.5,858.4 495.5,860.7 C495.5,863.0 492.9,866.6 491.0,867.7 C489.2,868.8 487.3,867.4 484.4,867.1 C481.4,866.9 476.9,866.3 473.2,866.2 C469.5,866.1 465.0,866.4 462.0,866.5 C459.1,866.6 457.2,867.7 455.4,866.7 C453.5,865.7 450.9,862.7 450.9,860.7Z" fill="#000" fill-opacity="0.22" filter="url(#b4)" transform="translate(473.2,860.7) scale(1.08,1.5) translate(-473.2,-860.7)"/>
<path d="M450.9,860.7 C450.9,858.7 453.5,855.7 455.4,854.7 C457.2,853.7 459.1,854.8 462.0,854.9 C465.0,855.0 469.5,855.3 473.2,855.2 C476.9,855.1 481.4,854.6 484.4,854.3 C487.3,854.1 489.2,852.6 491.0,853.7 C492.9,854.8 495.5,858.4 495.5,860.7 C495.5,863.0 492.9,866.6 491.0,867.7 C489.2,868.8 487.3,867.4 484.4,867.1 C481.4,866.9 476.9,866.3 473.2,866.2 C469.5,866.1 465.0,866.4 462.0,866.5 C459.1,866.6 457.2,867.7 455.4,866.7 C453.5,865.7 450.9,862.7 450.9,860.7Z" fill="#000" fill-opacity="1.0" filter="url(#b2)"/>
</g>
<rect x="127.2" y="819" width="379.5" height="76.20000000000005" fill="none" stroke="#000" stroke-width="2.2"/>
<clipPath id="cp4"><rect x="127.2" y="906.5" width="379.5" height="76.20000000000005"/></clipPath>
<g clip-path="url(#cp4)"><rect x="126.2" y="905.5" width="381.5" height="78.20000000000005" fill="#E6E6E6"/>
<path d="M143.5,945.3 C143.5,943.6 146.3,941.0 148.3,940.3 C150.3,939.6 152.3,940.6 155.5,940.9 C158.7,941.1 163.5,941.8 167.4,941.8 C171.4,941.8 176.2,940.9 179.4,940.6 C182.6,940.3 184.6,939.0 186.6,939.8 C188.6,940.6 191.4,943.5 191.4,945.3 C191.4,947.1 188.6,950.0 186.6,950.8 C184.6,951.6 182.6,950.3 179.4,950.0 C176.2,949.7 171.4,948.8 167.4,948.8 C163.5,948.8 158.7,949.4 155.5,949.7 C152.3,949.9 150.3,951.0 148.3,950.3 C146.3,949.6 143.5,947.0 143.5,945.3Z" fill="#000" fill-opacity="0.22" filter="url(#b4)" transform="translate(167.4,945.3) scale(1.08,1.5) translate(-167.4,-945.3)"/>
<path d="M143.5,945.3 C143.5,943.6 146.3,941.0 148.3,940.3 C150.3,939.6 152.3,940.6 155.5,940.9 C158.7,941.1 163.5,941.8 167.4,941.8 C171.4,941.8 176.2,940.9 179.4,940.6 C182.6,940.3 184.6,939.0 186.6,939.8 C188.6,940.6 191.4,943.5 191.4,945.3 C191.4,947.1 188.6,950.0 186.6,950.8 C184.6,951.6 182.6,950.3 179.4,950.0 C176.2,949.7 171.4,948.8 167.4,948.8 C163.5,948.8 158.7,949.4 155.5,949.7 C152.3,949.9 150.3,951.0 148.3,950.3 C146.3,949.6 143.5,947.0 143.5,945.3Z" fill="#000" fill-opacity="1.0" filter="url(#b2)"/>
<path d="M204.1,945.3 C204.1,943.5 206.7,940.6 208.5,939.8 C210.4,938.9 212.2,940.0 215.2,940.2 C218.2,940.4 222.6,940.8 226.3,940.8 C230.0,940.8 234.4,940.4 237.4,940.2 C240.4,940.0 242.2,938.9 244.1,939.8 C245.9,940.6 248.5,943.5 248.5,945.3 C248.5,947.1 245.9,949.9 244.1,950.8 C242.2,951.6 240.4,950.6 237.4,950.4 C234.4,950.2 230.0,949.8 226.3,949.8 C222.6,949.8 218.2,950.2 215.2,950.4 C212.2,950.6 210.4,951.6 208.5,950.8 C206.7,949.9 204.1,947.1 204.1,945.3Z" fill="#000" fill-opacity="0.22" filter="url(#b4)" transform="translate(226.3,945.3) scale(1.08,1.5) translate(-226.3,-945.3)"/>
<path d="M204.1,945.3 C204.1,943.5 206.7,940.6 208.5,939.8 C210.4,938.9 212.2,940.0 215.2,940.2 C218.2,940.4 222.6,940.8 226.3,940.8 C230.0,940.8 234.4,940.4 237.4,940.2 C240.4,940.0 242.2,938.9 244.1,939.8 C245.9,940.6 248.5,943.5 248.5,945.3 C248.5,947.1 245.9,949.9 244.1,950.8 C242.2,951.6 240.4,950.6 237.4,950.4 C234.4,950.2 230.0,949.8 226.3,949.8 C222.6,949.8 218.2,950.2 215.2,950.4 C212.2,950.6 210.4,951.6 208.5,950.8 C206.7,949.9 204.1,947.1 204.1,945.3Z" fill="#000" fill-opacity="1.0" filter="url(#b2)"/>
<path d="M263.5,945.3 C263.5,943.6 266.2,941.1 268.1,940.3 C270.0,939.5 271.9,940.3 274.9,940.3 C277.9,940.3 282.5,940.3 286.3,940.3 C290.1,940.2 294.7,940.1 297.7,940.0 C300.7,939.9 302.6,938.9 304.5,939.8 C306.4,940.7 309.1,943.5 309.1,945.3 C309.1,947.1 306.4,949.9 304.5,950.8 C302.6,951.7 300.7,950.7 297.7,950.6 C294.7,950.5 290.1,950.3 286.3,950.3 C282.5,950.2 277.9,950.3 274.9,950.3 C271.9,950.3 270.0,951.1 268.1,950.3 C266.2,949.5 263.5,947.0 263.5,945.3Z" fill="#000" fill-opacity="0.22" filter="url(#b4)" transform="translate(286.3,945.3) scale(1.08,1.5) translate(-286.3,-945.3)"/>
<path d="M263.5,945.3 C263.5,943.6 266.2,941.1 268.1,940.3 C270.0,939.5 271.9,940.3 274.9,940.3 C277.9,940.3 282.5,940.3 286.3,940.3 C290.1,940.2 294.7,940.1 297.7,940.0 C300.7,939.9 302.6,938.9 304.5,939.8 C306.4,940.7 309.1,943.5 309.1,945.3 C309.1,947.1 306.4,949.9 304.5,950.8 C302.6,951.7 300.7,950.7 297.7,950.6 C294.7,950.5 290.1,950.3 286.3,950.3 C282.5,950.2 277.9,950.3 274.9,950.3 C271.9,950.3 270.0,951.1 268.1,950.3 C266.2,949.5 263.5,947.0 263.5,945.3Z" fill="#000" fill-opacity="1.0" filter="url(#b2)"/>
<path d="M322.9,945.3 C322.9,943.3 325.6,940.1 327.6,939.3 C329.5,938.5 331.5,939.9 334.6,940.3 C337.7,940.7 342.4,941.7 346.2,941.8 C350.1,941.9 354.8,941.1 357.9,940.9 C361.0,940.6 363.0,939.6 364.9,940.3 C366.9,941.0 369.6,943.6 369.6,945.3 C369.6,947.0 366.9,949.6 364.9,950.3 C363.0,951.0 361.0,949.9 357.9,949.7 C354.8,949.4 350.1,948.7 346.2,948.8 C342.4,948.9 337.7,949.9 334.6,950.3 C331.5,950.7 329.5,952.1 327.6,951.3 C325.6,950.5 322.9,947.3 322.9,945.3Z" fill="#000" fill-opacity="0.22" filter="url(#b4)" transform="translate(346.2,945.3) scale(1.08,1.5) translate(-346.2,-945.3)"/>
<path d="M322.9,945.3 C322.9,943.3 325.6,940.1 327.6,939.3 C329.5,938.5 331.5,939.9 334.6,940.3 C337.7,940.7 342.4,941.7 346.2,941.8 C350.1,941.9 354.8,941.1 357.9,940.9 C361.0,940.6 363.0,939.6 364.9,940.3 C366.9,941.0 369.6,943.6 369.6,945.3 C369.6,947.0 366.9,949.6 364.9,950.3 C363.0,951.0 361.0,949.9 357.9,949.7 C354.8,949.4 350.1,948.7 346.2,948.8 C342.4,948.9 337.7,949.9 334.6,950.3 C331.5,950.7 329.5,952.1 327.6,951.3 C325.6,950.5 322.9,947.3 322.9,945.3Z" fill="#000" fill-opacity="1.0" filter="url(#b2)"/>
<path d="M385.8,945.3 C385.8,943.5 388.7,940.7 390.8,939.8 C392.9,938.9 395.0,939.9 398.3,940.0 C401.7,940.1 406.7,940.3 410.9,940.3 C415.0,940.2 420.0,939.9 423.4,939.7 C426.7,939.5 428.8,938.4 430.9,939.3 C433.0,940.2 435.9,943.3 435.9,945.3 C435.9,947.3 433.0,950.4 430.9,951.3 C428.8,952.2 426.7,951.1 423.4,950.9 C420.0,950.7 415.0,950.3 410.9,950.3 C406.7,950.2 401.7,950.5 398.3,950.6 C395.0,950.7 392.9,951.7 390.8,950.8 C388.7,949.9 385.8,947.1 385.8,945.3Z" fill="#000" fill-opacity="0.22" filter="url(#b4)" transform="translate(410.9,945.3) scale(1.08,1.5) translate(-410.9,-945.3)"/>
<path d="M385.8,945.3 C385.8,943.5 388.7,940.7 390.8,939.8 C392.9,938.9 395.0,939.9 398.3,940.0 C401.7,940.1 406.7,940.3 410.9,940.3 C415.0,940.2 420.0,939.9 423.4,939.7 C426.7,939.5 428.8,938.4 430.9,939.3 C433.0,940.2 435.9,943.3 435.9,945.3 C435.9,947.3 433.0,950.4 430.9,951.3 C428.8,952.2 426.7,951.1 423.4,950.9 C420.0,950.7 415.0,950.3 410.9,950.3 C406.7,950.2 401.7,950.5 398.3,950.6 C395.0,950.7 392.9,951.7 390.8,950.8 C388.7,949.9 385.8,947.1 385.8,945.3Z" fill="#000" fill-opacity="1.0" filter="url(#b2)"/>
<path d="M452.1,945.3 C452.1,943.5 454.8,940.7 456.7,939.8 C458.5,938.9 460.4,939.9 463.5,940.0 C466.5,940.1 471.1,940.3 474.9,940.3 C478.6,940.2 483.2,939.9 486.2,939.7 C489.3,939.5 491.2,938.4 493.1,939.3 C494.9,940.2 497.6,943.3 497.6,945.3 C497.6,947.3 494.9,950.4 493.1,951.3 C491.2,952.2 489.3,951.1 486.2,950.9 C483.2,950.7 478.6,950.3 474.9,950.3 C471.1,950.2 466.5,950.5 463.5,950.6 C460.4,950.7 458.5,951.7 456.7,950.8 C454.8,949.9 452.1,947.1 452.1,945.3Z" fill="#000" fill-opacity="0.22" filter="url(#b4)" transform="translate(474.9,945.3) scale(1.08,1.5) translate(-474.9,-945.3)"/>
<path d="M452.1,945.3 C452.1,943.5 454.8,940.7 456.7,939.8 C458.5,938.9 460.4,939.9 463.5,940.0 C466.5,940.1 471.1,940.3 474.9,940.3 C478.6,940.2 483.2,939.9 486.2,939.7 C489.3,939.5 491.2,938.4 493.1,939.3 C494.9,940.2 497.6,943.3 497.6,945.3 C497.6,947.3 494.9,950.4 493.1,951.3 C491.2,952.2 489.3,951.1 486.2,950.9 C483.2,950.7 478.6,950.3 474.9,950.3 C471.1,950.2 466.5,950.5 463.5,950.6 C460.4,950.7 458.5,951.7 456.7,950.8 C454.8,949.9 452.1,947.1 452.1,945.3Z" fill="#000" fill-opacity="1.0" filter="url(#b2)"/>
</g>
<rect x="127.2" y="906.5" width="379.5" height="76.20000000000005" fill="none" stroke="#000" stroke-width="2.2"/>
<line x1="507.7" y1="660.9" x2="518.7" y2="660.9" stroke="#000" stroke-width="2.2" />
<text transform="translate(519.0,671.6) scale(1,1.05)" font-size="30" text-anchor="start" textLength="92.3" lengthAdjust="spacingAndGlyphs">37 kDa</text>
<line x1="507.7" y1="801.9" x2="518.7" y2="801.9" stroke="#000" stroke-width="2.2" />
<text transform="translate(519.0,812.6) scale(1,1.05)" font-size="30" text-anchor="start" textLength="92.3" lengthAdjust="spacingAndGlyphs">37 kDa</text>
<line x1="507.7" y1="887.3" x2="518.7" y2="887.3" stroke="#000" stroke-width="2.2" />
<text transform="translate(519.0,898.0) scale(1,1.05)" font-size="30" text-anchor="start" textLength="92.3" lengthAdjust="spacingAndGlyphs">37 kDa</text>
<line x1="507.7" y1="943.0" x2="518.7" y2="943.0" stroke="#000" stroke-width="2.2" />
<text transform="translate(519.0,953.7) scale(1,1.05)" font-size="30" text-anchor="start" textLength="92.3" lengthAdjust="spacingAndGlyphs">37 kDa</text>
<text transform="translate(109.5,691.0) scale(1,1.05)" font-size="30" text-anchor="end" >MC1R</text>
<text transform="translate(110.0,757.8) scale(1,1.05)" font-size="30" text-anchor="end" >p-CREB</text>
<text transform="translate(110.4,798.3) scale(1,1.05)" font-size="30" text-anchor="end" textLength="94.5" lengthAdjust="spacingAndGlyphs">p-ATF1</text>
<text transform="translate(110.3,867.1) scale(1,1.05)" font-size="30" text-anchor="end" >t-CREB</text>
<text transform="translate(111.7,953.7) scale(1,1.05)" font-size="30" text-anchor="end" >GAPDH</text>
<text transform="translate(695.0,512.0) scale(1,1.0)" font-size="34" text-anchor="start" font-weight="bold" >e</text>
<text transform="translate(929.9,584.5) scale(1,1.05)" font-size="30" text-anchor="middle" >T-47d</text>
<line x1="813.0" y1="593.0" x2="1045.8" y2="593.0" stroke="#000" stroke-width="2" />
<text transform="translate(841.5,629.7) scale(1,1.05)" font-size="30" text-anchor="middle" >WT</text>
<text transform="translate(902.0,629.7) scale(1,1.05)" font-size="30" text-anchor="middle" >VC</text>
<text transform="translate(964.5,629.7) scale(1,1.05)" font-size="30" text-anchor="middle" >Sh1</text>
<text transform="translate(1023.6,629.7) scale(1,1.05)" font-size="30" text-anchor="middle" >Sh2</text>
<clipPath id="cp5"><rect x="813.6" y="640.7" width="231.30000000000007" height="77.69999999999993"/></clipPath>
<g clip-path="url(#cp5)"><rect x="812.6" y="639.7" width="233.30000000000007" height="79.69999999999993" fill="#DADADA"/>
<path d="M818.1,677.8 C818.1,676.0 820.6,673.2 822.4,672.3 C824.1,671.4 825.9,672.4 828.8,672.5 C831.6,672.6 835.9,672.8 839.4,672.8 C843.0,672.8 847.2,672.4 850.1,672.2 C852.9,672.0 854.7,670.9 856.4,671.8 C858.2,672.7 860.7,675.8 860.7,677.8 C860.7,679.8 858.2,682.9 856.4,683.8 C854.7,684.7 852.9,683.6 850.1,683.4 C847.2,683.2 843.0,682.8 839.4,682.8 C835.9,682.8 831.6,683.0 828.8,683.1 C825.9,683.2 824.1,684.2 822.4,683.3 C820.6,682.4 818.1,679.6 818.1,677.8Z" fill="#000" fill-opacity="0.22" filter="url(#b4)" transform="translate(839.4,677.8) scale(1.08,1.5) translate(-839.4,-677.8)"/>
<path d="M818.1,677.8 C818.1,676.0 820.6,673.2 822.4,672.3 C824.1,671.4 825.9,672.4 828.8,672.5 C831.6,672.6 835.9,672.8 839.4,672.8 C843.0,672.8 847.2,672.4 850.1,672.2 C852.9,672.0 854.7,670.9 856.4,671.8 C858.2,672.7 860.7,675.8 860.7,677.8 C860.7,679.8 858.2,682.9 856.4,683.8 C854.7,684.7 852.9,683.6 850.1,683.4 C847.2,683.2 843.0,682.8 839.4,682.8 C835.9,682.8 831.6,683.0 828.8,683.1 C825.9,683.2 824.1,684.2 822.4,683.3 C820.6,682.4 818.1,679.6 818.1,677.8Z" fill="#000" fill-opacity="1.0" filter="url(#b2)"/>
<path d="M876.8,677.8 C876.8,676.1 879.4,673.6 881.3,672.8 C883.1,672.0 885.0,672.9 888.0,673.0 C891.0,673.1 895.5,673.4 899.2,673.3 C902.9,673.1 907.4,672.4 910.4,672.1 C913.4,671.8 915.3,670.3 917.1,671.3 C919.0,672.2 921.6,675.6 921.6,677.8 C921.6,680.0 919.0,683.3 917.1,684.3 C915.3,685.2 913.4,683.8 910.4,683.5 C907.4,683.2 902.9,682.4 899.2,682.3 C895.5,682.1 891.0,682.5 888.0,682.6 C885.0,682.7 883.1,683.6 881.3,682.8 C879.4,682.0 876.8,679.5 876.8,677.8Z" fill="#000" fill-opacity="0.22" filter="url(#b4)" transform="translate(899.2,677.8) scale(1.08,1.5) translate(-899.2,-677.8)"/>
<path d="M876.8,677.8 C876.8,676.1 879.4,673.6 881.3,672.8 C883.1,672.0 885.0,672.9 888.0,673.0 C891.0,673.1 895.5,673.4 899.2,673.3 C902.9,673.1 907.4,672.4 910.4,672.1 C913.4,671.8 915.3,670.3 917.1,671.3 C919.0,672.2 921.6,675.6 921.6,677.8 C921.6,680.0 919.0,683.3 917.1,684.3 C915.3,685.2 913.4,683.8 910.4,683.5 C907.4,683.2 902.9,682.4 899.2,682.3 C895.5,682.1 891.0,682.5 888.0,682.6 C885.0,682.7 883.1,683.6 881.3,682.8 C879.4,682.0 876.8,679.5 876.8,677.8Z" fill="#000" fill-opacity="1.0" filter="url(#b2)"/>
<path d="M940.5,678.0 C940.5,677.0 942.6,675.5 944.0,675.0 C945.5,674.5 947.0,675.1 949.4,675.2 C951.7,675.3 955.3,675.5 958.2,675.5 C961.2,675.5 964.8,675.3 967.1,675.2 C969.5,675.1 971.0,674.5 972.5,675.0 C973.9,675.5 976.0,677.0 976.0,678.0 C976.0,679.0 973.9,680.5 972.5,681.0 C971.0,681.5 969.5,680.9 967.1,680.8 C964.8,680.7 961.2,680.5 958.2,680.5 C955.3,680.5 951.7,680.7 949.4,680.8 C947.0,680.9 945.5,681.5 944.0,681.0 C942.6,680.5 940.5,679.0 940.5,678.0Z" fill="#000" fill-opacity="0.15" filter="url(#b4)" transform="translate(958.2,678.0) scale(1.08,1.5) translate(-958.2,-678.0)"/>
<path d="M940.5,678.0 C940.5,677.0 942.6,675.5 944.0,675.0 C945.5,674.5 947.0,675.1 949.4,675.2 C951.7,675.3 955.3,675.5 958.2,675.5 C961.2,675.5 964.8,675.3 967.1,675.2 C969.5,675.1 971.0,674.5 972.5,675.0 C973.9,675.5 976.0,677.0 976.0,678.0 C976.0,679.0 973.9,680.5 972.5,681.0 C971.0,681.5 969.5,680.9 967.1,680.8 C964.8,680.7 961.2,680.5 958.2,680.5 C955.3,680.5 951.7,680.7 949.4,680.8 C947.0,680.9 945.5,681.5 944.0,681.0 C942.6,680.5 940.5,679.0 940.5,678.0Z" fill="#666" fill-opacity="0.5" filter="url(#b2)"/>
<path d="M995.5,678.5 C995.5,677.7 997.6,676.4 999.0,676.0 C1000.5,675.6 1002.0,676.0 1004.4,676.0 C1006.7,676.0 1010.3,676.1 1013.2,676.0 C1016.2,675.9 1019.8,675.6 1022.1,675.4 C1024.5,675.2 1026.0,674.5 1027.5,675.0 C1028.9,675.5 1031.0,677.3 1031.0,678.5 C1031.0,679.7 1028.9,681.5 1027.5,682.0 C1026.0,682.5 1024.5,681.8 1022.1,681.6 C1019.8,681.4 1016.2,681.1 1013.2,681.0 C1010.3,680.9 1006.7,681.0 1004.4,681.0 C1002.0,681.0 1000.5,681.4 999.0,681.0 C997.6,680.6 995.5,679.3 995.5,678.5Z" fill="#000" fill-opacity="0.165" filter="url(#b4)" transform="translate(1013.2,678.5) scale(1.08,1.5) translate(-1013.2,-678.5)"/>
<path d="M995.5,678.5 C995.5,677.7 997.6,676.4 999.0,676.0 C1000.5,675.6 1002.0,676.0 1004.4,676.0 C1006.7,676.0 1010.3,676.1 1013.2,676.0 C1016.2,675.9 1019.8,675.6 1022.1,675.4 C1024.5,675.2 1026.0,674.5 1027.5,675.0 C1028.9,675.5 1031.0,677.3 1031.0,678.5 C1031.0,679.7 1028.9,681.5 1027.5,682.0 C1026.0,682.5 1024.5,681.8 1022.1,681.6 C1019.8,681.4 1016.2,681.1 1013.2,681.0 C1010.3,680.9 1006.7,681.0 1004.4,681.0 C1002.0,681.0 1000.5,681.4 999.0,681.0 C997.6,680.6 995.5,679.3 995.5,678.5Z" fill="#555" fill-opacity="0.55" filter="url(#b2)"/>
</g>
<rect x="813.6" y="640.7" width="231.30000000000007" height="77.69999999999993" fill="none" stroke="#000" stroke-width="2.2"/>
<clipPath id="cp6"><rect x="813.6" y="729.8" width="231.30000000000007" height="77.5"/></clipPath>
<g clip-path="url(#cp6)"><rect x="812.6" y="728.8" width="233.30000000000007" height="79.5" fill="#D9D9D9"/>
<rect x="867" y="728" width="10" height="82" fill="#E0E0E0" filter="url(#b3)"/>
<rect x="923" y="728" width="10" height="82" fill="#E0E0E0" filter="url(#b3)"/>
<rect x="980" y="728" width="10" height="82" fill="#E0E0E0" filter="url(#b3)"/>
<path d="M825.3,754.8 C825.3,753.1 827.6,750.6 829.2,749.8 C830.8,749.0 832.4,749.8 834.9,749.8 C837.5,749.8 841.4,749.8 844.6,749.8 C847.8,749.8 851.7,749.8 854.2,749.8 C856.8,749.8 858.4,749.0 860.0,749.8 C861.6,750.6 863.9,753.1 863.9,754.8 C863.9,756.5 861.6,759.0 860.0,759.8 C858.4,760.6 856.8,759.8 854.2,759.8 C851.7,759.8 847.8,759.8 844.6,759.8 C841.4,759.8 837.5,759.8 834.9,759.8 C832.4,759.8 830.8,760.6 829.2,759.8 C827.6,759.0 825.3,756.5 825.3,754.8Z" fill="#000" fill-opacity="0.22" filter="url(#b4)" transform="translate(844.6,754.8) scale(1.08,1.5) translate(-844.6,-754.8)"/>
<path d="M825.3,754.8 C825.3,753.1 827.6,750.6 829.2,749.8 C830.8,749.0 832.4,749.8 834.9,749.8 C837.5,749.8 841.4,749.8 844.6,749.8 C847.8,749.8 851.7,749.8 854.2,749.8 C856.8,749.8 858.4,749.0 860.0,749.8 C861.6,750.6 863.9,753.1 863.9,754.8 C863.9,756.5 861.6,759.0 860.0,759.8 C858.4,760.6 856.8,759.8 854.2,759.8 C851.7,759.8 847.8,759.8 844.6,759.8 C841.4,759.8 837.5,759.8 834.9,759.8 C832.4,759.8 830.8,760.6 829.2,759.8 C827.6,759.0 825.3,756.5 825.3,754.8Z" fill="#000" fill-opacity="1.0" filter="url(#b2)"/>
<path d="M881.0,754.8 C881.0,753.0 883.2,750.4 884.7,749.5 C886.3,748.7 887.8,749.6 890.3,749.6 C892.7,749.7 896.5,749.8 899.5,749.8 C902.6,749.8 906.4,749.7 908.8,749.6 C911.3,749.6 912.8,748.7 914.4,749.5 C915.9,750.4 918.1,753.0 918.1,754.8 C918.1,756.5 915.9,759.2 914.4,760.0 C912.8,760.9 911.3,760.0 908.8,759.9 C906.4,759.9 902.6,759.8 899.5,759.8 C896.5,759.8 892.7,759.9 890.3,759.9 C887.8,760.0 886.3,760.9 884.7,760.0 C883.2,759.2 881.0,756.5 881.0,754.8Z" fill="#000" fill-opacity="0.22" filter="url(#b4)" transform="translate(899.5,754.8) scale(1.08,1.5) translate(-899.5,-754.8)"/>
<path d="M881.0,754.8 C881.0,753.0 883.2,750.4 884.7,749.5 C886.3,748.7 887.8,749.6 890.3,749.6 C892.7,749.7 896.5,749.8 899.5,749.8 C902.6,749.8 906.4,749.7 908.8,749.6 C911.3,749.6 912.8,748.7 914.4,749.5 C915.9,750.4 918.1,753.0 918.1,754.8 C918.1,756.5 915.9,759.2 914.4,760.0 C912.8,760.9 911.3,760.0 908.8,759.9 C906.4,759.9 902.6,759.8 899.5,759.8 C896.5,759.8 892.7,759.9 890.3,759.9 C887.8,760.0 886.3,760.9 884.7,760.0 C883.2,759.2 881.0,756.5 881.0,754.8Z" fill="#000" fill-opacity="1.0" filter="url(#b2)"/>
<path d="M935.2,754.0 C935.2,752.3 937.4,749.8 939.0,749.0 C940.6,748.2 942.1,749.2 944.7,749.4 C947.2,749.6 951.0,750.0 954.2,750.0 C957.3,750.0 961.1,749.8 963.6,749.7 C966.2,749.6 967.7,748.8 969.3,749.5 C970.9,750.2 973.1,752.5 973.1,754.0 C973.1,755.5 970.9,757.8 969.3,758.5 C967.7,759.2 966.2,758.4 963.6,758.3 C961.1,758.2 957.3,758.0 954.2,758.0 C951.0,758.0 947.2,758.4 944.7,758.6 C942.1,758.8 940.6,759.8 939.0,759.0 C937.4,758.2 935.2,755.7 935.2,754.0Z" fill="#000" fill-opacity="0.22" filter="url(#b4)" transform="translate(954.2,754.0) scale(1.08,1.5) translate(-954.2,-754.0)"/>
<path d="M935.2,754.0 C935.2,752.3 937.4,749.8 939.0,749.0 C940.6,748.2 942.1,749.2 944.7,749.4 C947.2,749.6 951.0,750.0 954.2,750.0 C957.3,750.0 961.1,749.8 963.6,749.7 C966.2,749.6 967.7,748.8 969.3,749.5 C970.9,750.2 973.1,752.5 973.1,754.0 C973.1,755.5 970.9,757.8 969.3,758.5 C967.7,759.2 966.2,758.4 963.6,758.3 C961.1,758.2 957.3,758.0 954.2,758.0 C951.0,758.0 947.2,758.4 944.7,758.6 C942.1,758.8 940.6,759.8 939.0,759.0 C937.4,758.2 935.2,755.7 935.2,754.0Z" fill="#000" fill-opacity="1.0" filter="url(#b2)"/>
<path d="M993.1,754.8 C993.1,753.6 995.5,751.9 997.2,751.3 C998.9,750.6 1000.6,751.1 1003.3,750.9 C1006.1,750.7 1010.1,750.3 1013.5,750.3 C1017.0,750.2 1021.0,750.5 1023.8,750.6 C1026.5,750.7 1028.2,750.1 1029.9,750.8 C1031.6,751.5 1034.0,753.5 1034.0,754.8 C1034.0,756.1 1031.6,758.1 1029.9,758.8 C1028.2,759.5 1026.5,758.9 1023.8,759.0 C1021.0,759.1 1017.0,759.3 1013.5,759.3 C1010.1,759.2 1006.1,758.9 1003.3,758.7 C1000.6,758.5 998.9,758.9 997.2,758.3 C995.5,757.6 993.1,756.0 993.1,754.8Z" fill="#000" fill-opacity="0.198" filter="url(#b4)" transform="translate(1013.5,754.8) scale(1.08,1.5) translate(-1013.5,-754.8)"/>
<path d="M993.1,754.8 C993.1,753.6 995.5,751.9 997.2,751.3 C998.9,750.6 1000.6,751.1 1003.3,750.9 C1006.1,750.7 1010.1,750.3 1013.5,750.3 C1017.0,750.2 1021.0,750.5 1023.8,750.6 C1026.5,750.7 1028.2,750.1 1029.9,750.8 C1031.6,751.5 1034.0,753.5 1034.0,754.8 C1034.0,756.1 1031.6,758.1 1029.9,758.8 C1028.2,759.5 1026.5,758.9 1023.8,759.0 C1021.0,759.1 1017.0,759.3 1013.5,759.3 C1010.1,759.2 1006.1,758.9 1003.3,758.7 C1000.6,758.5 998.9,758.9 997.2,758.3 C995.5,757.6 993.1,756.0 993.1,754.8Z" fill="#000" fill-opacity="0.9" filter="url(#b2)"/>
<ellipse cx="1029.0" cy="754.8" rx="3.0" ry="4.0" fill="#333" fill-opacity="0.5" filter="url(#b15)"/>
<path d="M822.5,783.0 C822.5,778.8 825.0,772.5 826.9,770.5 C828.7,768.5 830.5,770.6 833.4,770.7 C836.3,770.8 840.6,771.0 844.2,771.0 C847.9,771.0 852.2,771.0 855.1,771.0 C858.0,771.0 859.8,769.0 861.6,771.0 C863.5,773.0 866.0,779.0 866.0,783.0 C866.0,787.0 863.5,793.0 861.6,795.0 C859.8,797.0 858.0,795.0 855.1,795.0 C852.2,795.0 847.9,795.0 844.2,795.0 C840.6,795.0 836.3,795.2 833.4,795.3 C830.5,795.4 828.7,797.5 826.9,795.5 C825.0,793.5 822.5,787.2 822.5,783.0Z" fill="#000" fill-opacity="0.22" filter="url(#b4)" transform="translate(844.2,783.0) scale(1.08,1.5) translate(-844.2,-783.0)"/>
<path d="M822.5,783.0 C822.5,778.8 825.0,772.5 826.9,770.5 C828.7,768.5 830.5,770.6 833.4,770.7 C836.3,770.8 840.6,771.0 844.2,771.0 C847.9,771.0 852.2,771.0 855.1,771.0 C858.0,771.0 859.8,769.0 861.6,771.0 C863.5,773.0 866.0,779.0 866.0,783.0 C866.0,787.0 863.5,793.0 861.6,795.0 C859.8,797.0 858.0,795.0 855.1,795.0 C852.2,795.0 847.9,795.0 844.2,795.0 C840.6,795.0 836.3,795.2 833.4,795.3 C830.5,795.4 828.7,797.5 826.9,795.5 C825.0,793.5 822.5,787.2 822.5,783.0Z" fill="#000" fill-opacity="1" filter="url(#b15)"/>
<ellipse cx="837.0" cy="795.0" rx="9.0" ry="6.0" fill="#000" fill-opacity="1" filter="url(#b2)"/>
<ellipse cx="848.0" cy="797.0" rx="4.0" ry="3.0" fill="#000" fill-opacity="0.6" filter="url(#b2)"/>
<ellipse cx="858.0" cy="794.0" rx="5.0" ry="4.0" fill="#000" fill-opacity="0.9" filter="url(#b2)"/>
<path d="M877.0,783.0 C877.0,779.0 879.5,773.0 881.3,771.0 C883.1,769.0 884.9,771.0 887.8,771.0 C890.7,771.0 895.0,771.0 898.6,771.0 C902.2,771.0 906.5,771.0 909.4,771.0 C912.3,771.0 914.1,769.0 915.9,771.0 C917.7,773.0 920.2,779.0 920.2,783.0 C920.2,787.0 917.7,793.0 915.9,795.0 C914.1,797.0 912.3,795.0 909.4,795.0 C906.5,795.0 902.2,795.0 898.6,795.0 C895.0,795.0 890.7,795.0 887.8,795.0 C884.9,795.0 883.1,797.0 881.3,795.0 C879.5,793.0 877.0,787.0 877.0,783.0Z" fill="#000" fill-opacity="0.22" filter="url(#b4)" transform="translate(898.6,783.0) scale(1.08,1.5) translate(-898.6,-783.0)"/>
<path d="M877.0,783.0 C877.0,779.0 879.5,773.0 881.3,771.0 C883.1,769.0 884.9,771.0 887.8,771.0 C890.7,771.0 895.0,771.0 898.6,771.0 C902.2,771.0 906.5,771.0 909.4,771.0 C912.3,771.0 914.1,769.0 915.9,771.0 C917.7,773.0 920.2,779.0 920.2,783.0 C920.2,787.0 917.7,793.0 915.9,795.0 C914.1,797.0 912.3,795.0 909.4,795.0 C906.5,795.0 902.2,795.0 898.6,795.0 C895.0,795.0 890.7,795.0 887.8,795.0 C884.9,795.0 883.1,797.0 881.3,795.0 C879.5,793.0 877.0,787.0 877.0,783.0Z" fill="#000" fill-opacity="1" filter="url(#b15)"/>
<ellipse cx="898.0" cy="798.0" rx="19.0" ry="4.5" fill="#111" fill-opacity="0.55" filter="url(#b3)"/>
<ellipse cx="893.0" cy="797.0" rx="8.0" ry="3.0" fill="#000" fill-opacity="0.5" filter="url(#b2)"/>
<ellipse cx="947.0" cy="782.3" rx="11.0" ry="4.5" fill="#333" fill-opacity="0.45" filter="url(#b2)"/>
<ellipse cx="966.0" cy="782.0" rx="6.0" ry="3.5" fill="#444" fill-opacity="0.4" filter="url(#b2)"/>
<ellipse cx="1001.0" cy="782.3" rx="8.0" ry="5.0" fill="#000" fill-opacity="0.85" filter="url(#b2)"/>
<ellipse cx="1018.0" cy="782.6" rx="12.0" ry="4.0" fill="#222" fill-opacity="0.55" filter="url(#b2)"/>
</g>
<rect x="813.6" y="729.8" width="231.30000000000007" height="77.5" fill="none" stroke="#000" stroke-width="2.2"/>
<clipPath id="cp7"><rect x="813.6" y="817.7" width="231.30000000000007" height="77.5"/></clipPath>
<g clip-path="url(#cp7)"><rect x="812.6" y="816.7" width="233.30000000000007" height="79.5" fill="#CACACA"/>
<ellipse cx="840.0" cy="877.0" rx="18.0" ry="5.0" fill="#999" fill-opacity="0.35" filter="url(#b3)"/>
<ellipse cx="903.0" cy="877.0" rx="18.0" ry="5.0" fill="#999" fill-opacity="0.35" filter="url(#b3)"/>
<ellipse cx="960.0" cy="877.0" rx="18.0" ry="5.0" fill="#999" fill-opacity="0.35" filter="url(#b3)"/>
<ellipse cx="1011.0" cy="877.0" rx="18.0" ry="5.0" fill="#999" fill-opacity="0.35" filter="url(#b3)"/>
<path d="M814.9,853.8 C814.9,851.0 817.9,846.7 820.0,845.3 C822.2,843.9 824.3,845.4 827.7,845.5 C831.1,845.6 836.2,845.8 840.5,845.8 C844.8,845.8 849.9,845.4 853.3,845.2 C856.7,845.0 858.8,843.4 861.0,844.8 C863.1,846.2 866.1,850.8 866.1,853.8 C866.1,856.8 863.1,861.4 861.0,862.8 C858.8,864.2 856.7,862.6 853.3,862.4 C849.9,862.2 844.8,861.8 840.5,861.8 C836.2,861.8 831.1,862.0 827.7,862.1 C824.3,862.2 822.2,863.7 820.0,862.3 C817.9,860.9 814.9,856.6 814.9,853.8Z" fill="#000" fill-opacity="0.22" filter="url(#b4)" transform="translate(840.5,853.8) scale(1.08,1.5) translate(-840.5,-853.8)"/>
<path d="M814.9,853.8 C814.9,851.0 817.9,846.7 820.0,845.3 C822.2,843.9 824.3,845.4 827.7,845.5 C831.1,845.6 836.2,845.8 840.5,845.8 C844.8,845.8 849.9,845.4 853.3,845.2 C856.7,845.0 858.8,843.4 861.0,844.8 C863.1,846.2 866.1,850.8 866.1,853.8 C866.1,856.8 863.1,861.4 861.0,862.8 C858.8,864.2 856.7,862.6 853.3,862.4 C849.9,862.2 844.8,861.8 840.5,861.8 C836.2,861.8 831.1,862.0 827.7,862.1 C824.3,862.2 822.2,863.7 820.0,862.3 C817.9,860.9 814.9,856.6 814.9,853.8Z" fill="#000" fill-opacity="1.0" filter="url(#b2)"/>
<path d="M880.2,854.2 C880.2,851.9 882.9,848.4 884.9,847.2 C886.8,846.0 888.8,847.2 891.9,847.2 C895.0,847.2 899.7,847.2 903.6,847.2 C907.5,847.2 912.2,847.2 915.3,847.2 C918.4,847.2 920.4,846.0 922.3,847.2 C924.3,848.4 927.0,851.9 927.0,854.2 C927.0,856.5 924.3,860.0 922.3,861.2 C920.4,862.4 918.4,861.2 915.3,861.2 C912.2,861.2 907.5,861.2 903.6,861.2 C899.7,861.2 895.0,861.2 891.9,861.2 C888.8,861.2 886.8,862.4 884.9,861.2 C882.9,860.0 880.2,856.5 880.2,854.2Z" fill="#000" fill-opacity="0.22" filter="url(#b4)" transform="translate(903.6,854.2) scale(1.08,1.5) translate(-903.6,-854.2)"/>
<path d="M880.2,854.2 C880.2,851.9 882.9,848.4 884.9,847.2 C886.8,846.0 888.8,847.2 891.9,847.2 C895.0,847.2 899.7,847.2 903.6,847.2 C907.5,847.2 912.2,847.2 915.3,847.2 C918.4,847.2 920.4,846.0 922.3,847.2 C924.3,848.4 927.0,851.9 927.0,854.2 C927.0,856.5 924.3,860.0 922.3,861.2 C920.4,862.4 918.4,861.2 915.3,861.2 C912.2,861.2 907.5,861.2 903.6,861.2 C899.7,861.2 895.0,861.2 891.9,861.2 C888.8,861.2 886.8,862.4 884.9,861.2 C882.9,860.0 880.2,856.5 880.2,854.2Z" fill="#000" fill-opacity="1.0" filter="url(#b2)"/>
<path d="M938.2,856.0 C938.2,853.0 940.7,848.5 942.5,847.0 C944.3,845.5 946.1,846.9 949.0,846.8 C951.8,846.7 956.2,846.5 959.8,846.5 C963.3,846.5 967.7,846.7 970.5,846.8 C973.4,846.9 975.2,845.5 977.0,847.0 C978.8,848.5 981.3,853.0 981.3,856.0 C981.3,859.0 978.8,863.5 977.0,865.0 C975.2,866.5 973.4,865.1 970.5,865.2 C967.7,865.3 963.3,865.5 959.8,865.5 C956.2,865.5 951.8,865.3 949.0,865.2 C946.1,865.1 944.3,866.5 942.5,865.0 C940.7,863.5 938.2,859.0 938.2,856.0Z" fill="#000" fill-opacity="0.22" filter="url(#b4)" transform="translate(959.8,856.0) scale(1.08,1.5) translate(-959.8,-856.0)"/>
<path d="M938.2,856.0 C938.2,853.0 940.7,848.5 942.5,847.0 C944.3,845.5 946.1,846.9 949.0,846.8 C951.8,846.7 956.2,846.5 959.8,846.5 C963.3,846.5 967.7,846.7 970.5,846.8 C973.4,846.9 975.2,845.5 977.0,847.0 C978.8,848.5 981.3,853.0 981.3,856.0 C981.3,859.0 978.8,863.5 977.0,865.0 C975.2,866.5 973.4,865.1 970.5,865.2 C967.7,865.3 963.3,865.5 959.8,865.5 C956.2,865.5 951.8,865.3 949.0,865.2 C946.1,865.1 944.3,866.5 942.5,865.0 C940.7,863.5 938.2,859.0 938.2,856.0Z" fill="#000" fill-opacity="1.0" filter="url(#b2)"/>
<path d="M990.2,857.0 C990.2,854.2 992.6,850.0 994.4,848.5 C996.1,847.0 997.8,848.4 1000.6,848.3 C1003.4,848.2 1007.5,848.0 1011.0,848.0 C1014.5,848.0 1018.6,848.2 1021.4,848.3 C1024.2,848.4 1025.9,847.0 1027.6,848.5 C1029.4,850.0 1031.8,854.2 1031.8,857.0 C1031.8,859.8 1029.4,864.0 1027.6,865.5 C1025.9,867.0 1024.2,865.6 1021.4,865.7 C1018.6,865.8 1014.5,866.0 1011.0,866.0 C1007.5,866.0 1003.4,865.8 1000.6,865.7 C997.8,865.6 996.1,867.0 994.4,865.5 C992.6,864.0 990.2,859.8 990.2,857.0Z" fill="#000" fill-opacity="0.22" filter="url(#b4)" transform="translate(1011.0,857.0) scale(1.08,1.5) translate(-1011.0,-857.0)"/>
<path d="M990.2,857.0 C990.2,854.2 992.6,850.0 994.4,848.5 C996.1,847.0 997.8,848.4 1000.6,848.3 C1003.4,848.2 1007.5,848.0 1011.0,848.0 C1014.5,848.0 1018.6,848.2 1021.4,848.3 C1024.2,848.4 1025.9,847.0 1027.6,848.5 C1029.4,850.0 1031.8,854.2 1031.8,857.0 C1031.8,859.8 1029.4,864.0 1027.6,865.5 C1025.9,867.0 1024.2,865.6 1021.4,865.7 C1018.6,865.8 1014.5,866.0 1011.0,866.0 C1007.5,866.0 1003.4,865.8 1000.6,865.7 C997.8,865.6 996.1,867.0 994.4,865.5 C992.6,864.0 990.2,859.8 990.2,857.0Z" fill="#000" fill-opacity="1.0" filter="url(#b2)"/>
</g>
<rect x="813.6" y="817.7" width="231.30000000000007" height="77.5" fill="none" stroke="#000" stroke-width="2.2"/>
<clipPath id="cp8"><rect x="813.6" y="904.9" width="231.30000000000007" height="77.60000000000002"/></clipPath>
<g clip-path="url(#cp8)"><rect x="812.6" y="903.9" width="233.30000000000007" height="79.60000000000002" fill="#F7F7F7"/>
<path d="M817.5,943.0 C817.5,941.5 820.2,939.2 822.1,938.5 C824.0,937.8 825.9,938.5 828.9,938.5 C831.9,938.5 836.5,938.5 840.3,938.5 C844.1,938.5 848.7,938.5 851.7,938.5 C854.7,938.5 856.6,937.8 858.5,938.5 C860.4,939.2 863.1,941.5 863.1,943.0 C863.1,944.5 860.4,946.8 858.5,947.5 C856.6,948.2 854.7,947.5 851.7,947.5 C848.7,947.5 844.1,947.5 840.3,947.5 C836.5,947.5 831.9,947.5 828.9,947.5 C825.9,947.5 824.0,948.2 822.1,947.5 C820.2,946.8 817.5,944.5 817.5,943.0Z" fill="#000" fill-opacity="0.22" filter="url(#b4)" transform="translate(840.3,943.0) scale(1.08,1.5) translate(-840.3,-943.0)"/>
<path d="M817.5,943.0 C817.5,941.5 820.2,939.2 822.1,938.5 C824.0,937.8 825.9,938.5 828.9,938.5 C831.9,938.5 836.5,938.5 840.3,938.5 C844.1,938.5 848.7,938.5 851.7,938.5 C854.7,938.5 856.6,937.8 858.5,938.5 C860.4,939.2 863.1,941.5 863.1,943.0 C863.1,944.5 860.4,946.8 858.5,947.5 C856.6,948.2 854.7,947.5 851.7,947.5 C848.7,947.5 844.1,947.5 840.3,947.5 C836.5,947.5 831.9,947.5 828.9,947.5 C825.9,947.5 824.0,948.2 822.1,947.5 C820.2,946.8 817.5,944.5 817.5,943.0Z" fill="#000" fill-opacity="1.0" filter="url(#b2)"/>
<path d="M876.5,943.0 C876.5,941.5 879.1,939.2 881.0,938.5 C882.9,937.8 884.8,938.5 887.8,938.5 C890.8,938.5 895.4,938.5 899.1,938.5 C902.9,938.5 907.5,938.5 910.5,938.5 C913.5,938.5 915.4,937.8 917.3,938.5 C919.2,939.2 921.8,941.5 921.8,943.0 C921.8,944.5 919.2,946.8 917.3,947.5 C915.4,948.2 913.5,947.5 910.5,947.5 C907.5,947.5 902.9,947.5 899.1,947.5 C895.4,947.5 890.8,947.5 887.8,947.5 C884.8,947.5 882.9,948.2 881.0,947.5 C879.1,946.8 876.5,944.5 876.5,943.0Z" fill="#000" fill-opacity="0.22" filter="url(#b4)" transform="translate(899.1,943.0) scale(1.08,1.5) translate(-899.1,-943.0)"/>
<path d="M876.5,943.0 C876.5,941.5 879.1,939.2 881.0,938.5 C882.9,937.8 884.8,938.5 887.8,938.5 C890.8,938.5 895.4,938.5 899.1,938.5 C902.9,938.5 907.5,938.5 910.5,938.5 C913.5,938.5 915.4,937.8 917.3,938.5 C919.2,939.2 921.8,941.5 921.8,943.0 C921.8,944.5 919.2,946.8 917.3,947.5 C915.4,948.2 913.5,947.5 910.5,947.5 C907.5,947.5 902.9,947.5 899.1,947.5 C895.4,947.5 890.8,947.5 887.8,947.5 C884.8,947.5 882.9,948.2 881.0,947.5 C879.1,946.8 876.5,944.5 876.5,943.0Z" fill="#000" fill-opacity="1.0" filter="url(#b2)"/>
<path d="M933.0,944.0 C933.0,942.5 935.6,940.2 937.5,939.5 C939.3,938.8 941.2,939.5 944.1,939.5 C947.1,939.5 951.5,939.5 955.2,939.5 C959.0,939.5 963.4,939.3 966.4,939.2 C969.3,939.1 971.2,938.2 973.0,939.0 C974.9,939.8 977.5,942.3 977.5,944.0 C977.5,945.7 974.9,948.2 973.0,949.0 C971.2,949.8 969.3,948.9 966.4,948.8 C963.4,948.7 959.0,948.5 955.2,948.5 C951.5,948.5 947.1,948.5 944.1,948.5 C941.2,948.5 939.3,949.2 937.5,948.5 C935.6,947.8 933.0,945.5 933.0,944.0Z" fill="#000" fill-opacity="0.22" filter="url(#b4)" transform="translate(955.2,944.0) scale(1.08,1.5) translate(-955.2,-944.0)"/>
<path d="M933.0,944.0 C933.0,942.5 935.6,940.2 937.5,939.5 C939.3,938.8 941.2,939.5 944.1,939.5 C947.1,939.5 951.5,939.5 955.2,939.5 C959.0,939.5 963.4,939.3 966.4,939.2 C969.3,939.1 971.2,938.2 973.0,939.0 C974.9,939.8 977.5,942.3 977.5,944.0 C977.5,945.7 974.9,948.2 973.0,949.0 C971.2,949.8 969.3,948.9 966.4,948.8 C963.4,948.7 959.0,948.5 955.2,948.5 C951.5,948.5 947.1,948.5 944.1,948.5 C941.2,948.5 939.3,949.2 937.5,948.5 C935.6,947.8 933.0,945.5 933.0,944.0Z" fill="#000" fill-opacity="1.0" filter="url(#b2)"/>
<path d="M987.2,944.0 C987.2,942.3 989.8,939.8 991.6,939.0 C993.4,938.2 995.2,939.0 998.2,939.0 C1001.1,939.0 1005.5,939.0 1009.1,939.0 C1012.8,939.0 1017.1,939.0 1020.0,939.0 C1023.0,939.0 1024.8,938.2 1026.6,939.0 C1028.4,939.8 1031.0,942.3 1031.0,944.0 C1031.0,945.7 1028.4,948.2 1026.6,949.0 C1024.8,949.8 1023.0,949.0 1020.0,949.0 C1017.1,949.0 1012.8,949.0 1009.1,949.0 C1005.5,949.0 1001.1,949.0 998.2,949.0 C995.2,949.0 993.4,949.8 991.6,949.0 C989.8,948.2 987.2,945.7 987.2,944.0Z" fill="#000" fill-opacity="0.22" filter="url(#b4)" transform="translate(1009.1,944.0) scale(1.08,1.5) translate(-1009.1,-944.0)"/>
<path d="M987.2,944.0 C987.2,942.3 989.8,939.8 991.6,939.0 C993.4,938.2 995.2,939.0 998.2,939.0 C1001.1,939.0 1005.5,939.0 1009.1,939.0 C1012.8,939.0 1017.1,939.0 1020.0,939.0 C1023.0,939.0 1024.8,938.2 1026.6,939.0 C1028.4,939.8 1031.0,942.3 1031.0,944.0 C1031.0,945.7 1028.4,948.2 1026.6,949.0 C1024.8,949.8 1023.0,949.0 1020.0,949.0 C1017.1,949.0 1012.8,949.0 1009.1,949.0 C1005.5,949.0 1001.1,949.0 998.2,949.0 C995.2,949.0 993.4,949.8 991.6,949.0 C989.8,948.2 987.2,945.7 987.2,944.0Z" fill="#000" fill-opacity="1.0" filter="url(#b2)"/>
<path d="M820.0,969.5 C820.0,968.7 822.5,967.4 824.2,967.0 C826.0,966.6 827.7,967.0 830.5,967.0 C833.3,967.0 837.5,967.0 841.0,967.0 C844.5,967.0 848.7,967.0 851.5,967.0 C854.3,967.0 856.0,966.6 857.8,967.0 C859.5,967.4 862.0,968.7 862.0,969.5 C862.0,970.3 859.5,971.6 857.8,972.0 C856.0,972.4 854.3,972.0 851.5,972.0 C848.7,972.0 844.5,972.0 841.0,972.0 C837.5,972.0 833.3,972.0 830.5,972.0 C827.7,972.0 826.0,972.4 824.2,972.0 C822.5,971.6 820.0,970.3 820.0,969.5Z" fill="#888" fill-opacity="0.18" filter="url(#b2)"/>
<path d="M880.0,970.0 C880.0,969.2 882.3,967.9 884.0,967.5 C885.7,967.1 887.3,967.5 890.0,967.5 C892.7,967.5 896.7,967.5 900.0,967.5 C903.3,967.5 907.3,967.5 910.0,967.5 C912.7,967.5 914.3,967.1 916.0,967.5 C917.7,967.9 920.0,969.2 920.0,970.0 C920.0,970.8 917.7,972.1 916.0,972.5 C914.3,972.9 912.7,972.5 910.0,972.5 C907.3,972.5 903.3,972.5 900.0,972.5 C896.7,972.5 892.7,972.5 890.0,972.5 C887.3,972.5 885.7,972.9 884.0,972.5 C882.3,972.1 880.0,970.8 880.0,970.0Z" fill="#888" fill-opacity="0.18" filter="url(#b2)"/>
<path d="M937.0,971.0 C937.0,970.2 939.2,968.9 940.8,968.5 C942.4,968.1 944.0,968.5 946.5,968.5 C949.0,968.5 952.8,968.5 956.0,968.5 C959.2,968.5 963.0,968.5 965.5,968.5 C968.0,968.5 969.6,968.1 971.2,968.5 C972.8,968.9 975.0,970.2 975.0,971.0 C975.0,971.8 972.8,973.1 971.2,973.5 C969.6,973.9 968.0,973.5 965.5,973.5 C963.0,973.5 959.2,973.5 956.0,973.5 C952.8,973.5 949.0,973.5 946.5,973.5 C944.0,973.5 942.4,973.9 940.8,973.5 C939.2,973.1 937.0,971.8 937.0,971.0Z" fill="#888" fill-opacity="0.18" filter="url(#b2)"/>
<path d="M992.0,972.0 C992.0,971.2 994.1,969.9 995.6,969.5 C997.1,969.1 998.6,969.5 1001.0,969.5 C1003.4,969.5 1007.0,969.5 1010.0,969.5 C1013.0,969.5 1016.6,969.5 1019.0,969.5 C1021.4,969.5 1022.9,969.1 1024.4,969.5 C1025.9,969.9 1028.0,971.2 1028.0,972.0 C1028.0,972.8 1025.9,974.1 1024.4,974.5 C1022.9,974.9 1021.4,974.5 1019.0,974.5 C1016.6,974.5 1013.0,974.5 1010.0,974.5 C1007.0,974.5 1003.4,974.5 1001.0,974.5 C998.6,974.5 997.1,974.9 995.6,974.5 C994.1,974.1 992.0,972.8 992.0,972.0Z" fill="#888" fill-opacity="0.18" filter="url(#b2)"/>
</g>
<rect x="813.6" y="904.9" width="231.30000000000007" height="77.60000000000002" fill="none" stroke="#000" stroke-width="2.2"/>
<line x1="1045.9" y1="660.4" x2="1056.9" y2="660.4" stroke="#000" stroke-width="2.2" />
<text transform="translate(1057.2,671.1) scale(1,1.05)" font-size="30" text-anchor="start" textLength="92.3" lengthAdjust="spacingAndGlyphs">37 kDa</text>
<line x1="1045.9" y1="802.3" x2="1056.9" y2="802.3" stroke="#000" stroke-width="2.2" />
<text transform="translate(1057.2,813.0) scale(1,1.05)" font-size="30" text-anchor="start" textLength="92.3" lengthAdjust="spacingAndGlyphs">37 kDa</text>
<line x1="1045.9" y1="887.7" x2="1056.9" y2="887.7" stroke="#000" stroke-width="2.2" />
<text transform="translate(1057.2,898.4) scale(1,1.05)" font-size="30" text-anchor="start" textLength="92.3" lengthAdjust="spacingAndGlyphs">37 kDa</text>
<line x1="1045.9" y1="942.5" x2="1056.9" y2="942.5" stroke="#000" stroke-width="2.2" />
<text transform="translate(1057.2,953.2) scale(1,1.05)" font-size="30" text-anchor="start" textLength="92.3" lengthAdjust="spacingAndGlyphs">37 kDa</text>
<text transform="translate(791.6,690.0) scale(1,1.05)" font-size="30" text-anchor="end" >MC1R</text>
<text transform="translate(792.0,759.9) scale(1,1.05)" font-size="30" text-anchor="end" >p-CREB</text>
<text transform="translate(794.1,800.3) scale(1,1.05)" font-size="30" text-anchor="end" textLength="94.5" lengthAdjust="spacingAndGlyphs">p-ATF1</text>
<text transform="translate(792.1,866.8) scale(1,1.05)" font-size="30" text-anchor="end" >t-CREB</text>
<text transform="translate(794.3,949.2) scale(1,1.05)" font-size="30" text-anchor="end" >GAPDH</text>
<text transform="translate(47.0,1044.0) scale(1,1.0)" font-size="34" text-anchor="start" font-weight="bold" >g</text>
<line x1="124.8" y1="1089.4" x2="124.8" y2="1425.5" stroke="#000" stroke-width="2" />
<line x1="120.8" y1="1424.5" x2="124.8" y2="1424.5" stroke="#000" stroke-width="2" />
<text transform="translate(112.6,1433.0) scale(1,1.05)" font-size="30" text-anchor="end" >0</text>
<line x1="120.8" y1="1340.7" x2="124.8" y2="1340.7" stroke="#000" stroke-width="2" />
<text transform="translate(112.6,1349.2) scale(1,1.05)" font-size="30" text-anchor="end" >1</text>
<line x1="120.8" y1="1257.0" x2="124.8" y2="1257.0" stroke="#000" stroke-width="2" />
<text transform="translate(112.6,1265.5) scale(1,1.05)" font-size="30" text-anchor="end" >2</text>
<line x1="120.8" y1="1173.2" x2="124.8" y2="1173.2" stroke="#000" stroke-width="2" />
<text transform="translate(112.6,1181.7) scale(1,1.05)" font-size="30" text-anchor="end" >3</text>
<line x1="120.8" y1="1089.4" x2="124.8" y2="1089.4" stroke="#000" stroke-width="2" />
<text transform="translate(112.6,1097.9) scale(1,1.05)" font-size="30" text-anchor="end" >4</text>
<line x1="120.8" y1="1424.5" x2="461.0" y2="1424.5" stroke="#000" stroke-width="2" />
<line x1="125.0" y1="1424.5" x2="125.0" y2="1428.5" stroke="#000" stroke-width="2" />
<text transform="translate(120.4,1465.5) scale(1,1.05)" font-size="30" text-anchor="middle" >0</text>
<line x1="208.6" y1="1424.5" x2="208.6" y2="1428.5" stroke="#000" stroke-width="2" />
<text transform="translate(209.8,1465.5) scale(1,1.05)" font-size="30" text-anchor="middle" >12</text>
<line x1="292.6" y1="1424.5" x2="292.6" y2="1428.5" stroke="#000" stroke-width="2" />
<text transform="translate(293.8,1465.5) scale(1,1.05)" font-size="30" text-anchor="middle" >24</text>
<line x1="376.2" y1="1424.5" x2="376.2" y2="1428.5" stroke="#000" stroke-width="2" />
<text transform="translate(377.4,1465.5) scale(1,1.05)" font-size="30" text-anchor="middle" >36</text>
<line x1="460.0" y1="1424.5" x2="460.0" y2="1428.5" stroke="#000" stroke-width="2" />
<text transform="translate(461.2,1465.5) scale(1,1.05)" font-size="30" text-anchor="middle" >48</text>
<text transform="translate(306.9,1504.7) scale(1,1.05)" font-size="30" text-anchor="middle" >Time (h)</text>
<text transform="translate(73.3,1260.3) rotate(-90) scale(1,1.05)" font-size="30" text-anchor="middle">Fold change in cell number</text>
<text transform="translate(138.2,1127.0) scale(1,1.05)" font-size="30" text-anchor="start" >T-47d</text>
<polyline points="125.0,1340.7 208.6,1284.3 292.6,1236.8 376.2,1184.1 460.0,1159.5" fill="none" stroke="#8EA7CF" stroke-width="3.0" stroke-linejoin="round"/>
<polyline points="125.0,1340.7 208.6,1257.0 292.6,1201.7 376.2,1130.4 460.0,1101.4" fill="none" stroke="#F0AE78" stroke-width="3.0" stroke-linejoin="round"/>
<polyline points="125.0,1340.7 208.6,1329.8 292.6,1327.6 376.2,1299.7 460.0,1272.0" fill="none" stroke="#A0BA88" stroke-width="3.0" stroke-linejoin="round"/>
<line x1="208.6" y1="1280.2" x2="208.6" y2="1288.5" stroke="#000" stroke-width="1.5" />
<line x1="204.0" y1="1280.2" x2="213.2" y2="1280.2" stroke="#000" stroke-width="1.5" />
<line x1="204.0" y1="1288.5" x2="213.2" y2="1288.5" stroke="#000" stroke-width="1.5" />
<line x1="292.6" y1="1235.2" x2="292.6" y2="1238.5" stroke="#000" stroke-width="1.5" />
<line x1="288.0" y1="1235.2" x2="297.2" y2="1235.2" stroke="#000" stroke-width="1.5" />
<line x1="288.0" y1="1238.5" x2="297.2" y2="1238.5" stroke="#000" stroke-width="1.5" />
<line x1="376.2" y1="1182.4" x2="376.2" y2="1185.7" stroke="#000" stroke-width="1.5" />
<line x1="371.6" y1="1182.4" x2="380.8" y2="1182.4" stroke="#000" stroke-width="1.5" />
<line x1="371.6" y1="1185.7" x2="380.8" y2="1185.7" stroke="#000" stroke-width="1.5" />
<line x1="455.4" y1="1159.5" x2="464.6" y2="1159.5" stroke="#000" stroke-width="1.8" />
<line x1="208.6" y1="1251.1" x2="208.6" y2="1262.8" stroke="#000" stroke-width="1.5" />
<line x1="204.0" y1="1251.1" x2="213.2" y2="1251.1" stroke="#000" stroke-width="1.5" />
<line x1="204.0" y1="1262.8" x2="213.2" y2="1262.8" stroke="#000" stroke-width="1.5" />
<line x1="292.6" y1="1200.0" x2="292.6" y2="1203.3" stroke="#000" stroke-width="1.5" />
<line x1="288.0" y1="1200.0" x2="297.2" y2="1200.0" stroke="#000" stroke-width="1.5" />
<line x1="288.0" y1="1203.3" x2="297.2" y2="1203.3" stroke="#000" stroke-width="1.5" />
<line x1="376.2" y1="1128.8" x2="376.2" y2="1132.1" stroke="#000" stroke-width="1.5" />
<line x1="371.6" y1="1128.8" x2="380.8" y2="1128.8" stroke="#000" stroke-width="1.5" />
<line x1="371.6" y1="1132.1" x2="380.8" y2="1132.1" stroke="#000" stroke-width="1.5" />
<line x1="455.4" y1="1101.4" x2="464.6" y2="1101.4" stroke="#000" stroke-width="1.8" />
<line x1="204.0" y1="1329.8" x2="213.2" y2="1329.8" stroke="#000" stroke-width="1.8" />
<line x1="288.0" y1="1327.6" x2="297.2" y2="1327.6" stroke="#000" stroke-width="1.8" />
<line x1="376.2" y1="1296.3" x2="376.2" y2="1303.0" stroke="#000" stroke-width="1.5" />
<line x1="371.6" y1="1296.3" x2="380.8" y2="1296.3" stroke="#000" stroke-width="1.5" />
<line x1="371.6" y1="1303.0" x2="380.8" y2="1303.0" stroke="#000" stroke-width="1.5" />
<line x1="460.0" y1="1266.2" x2="460.0" y2="1277.9" stroke="#000" stroke-width="1.5" />
<line x1="455.4" y1="1266.2" x2="464.6" y2="1266.2" stroke="#000" stroke-width="1.5" />
<line x1="455.4" y1="1277.9" x2="464.6" y2="1277.9" stroke="#000" stroke-width="1.5" />
<line x1="125.0" y1="1332.0" x2="125.0" y2="1349.1" stroke="#000" stroke-width="1.5" />
<line x1="120.4" y1="1332.0" x2="129.6" y2="1332.0" stroke="#000" stroke-width="1.5" />
<line x1="120.4" y1="1339.1" x2="129.6" y2="1339.1" stroke="#000" stroke-width="1.5" />
<line x1="120.4" y1="1341.0" x2="129.6" y2="1341.0" stroke="#000" stroke-width="1.5" />
<line x1="120.4" y1="1343.1" x2="129.6" y2="1343.1" stroke="#000" stroke-width="1.5" />
<line x1="120.4" y1="1349.1" x2="129.6" y2="1349.1" stroke="#000" stroke-width="1.5" />
<text x="209.9" y="1248.3" font-size="27" font-weight="bold" text-anchor="middle">*</text>
<text x="209.9" y="1328.5" font-size="27" font-weight="bold" text-anchor="middle">*</text>
<text x="292.8" y="1197.1" font-size="27" font-weight="bold" text-anchor="middle">*</text>
<text x="292.8" y="1326.8" font-size="27" font-weight="bold" text-anchor="middle">*</text>
<text x="376.5" y="1126.5" font-size="27" font-weight="bold" text-anchor="middle">*</text>
<text x="376.5" y="1296.1" font-size="27" font-weight="bold" text-anchor="middle">*</text>
<text x="460.8" y="1096.4" font-size="27" font-weight="bold" text-anchor="middle">*</text>
<text x="460.8" y="1267.1" font-size="27" font-weight="bold" text-anchor="middle">*</text>
<line x1="330.3" y1="1340.1" x2="359" y2="1340.1" stroke="#8EA7CF" stroke-width="3.8"/>
<text transform="translate(372.2,1350.9) scale(1,1.05)" font-size="30" text-anchor="start" >UT</text>
<line x1="330.3" y1="1377.9" x2="359" y2="1377.9" stroke="#F0AE78" stroke-width="3.8"/>
<text transform="translate(372.6,1385.8) scale(1,1.05)" font-size="30" text-anchor="start" >+MSH</text>
<line x1="330.3" y1="1409.8" x2="359" y2="1409.8" stroke="#A0BA88" stroke-width="3.8"/>
<text transform="translate(372.6,1416.0) scale(1,1.05)" font-size="30" text-anchor="start" >+MSG</text>
<text transform="translate(596.0,1044.0) scale(1,1.0)" font-size="34" text-anchor="start" font-weight="bold" >h</text>
<line x1="672.4" y1="1093.0" x2="672.4" y2="1430.1" stroke="#000" stroke-width="2" />
<line x1="668.4" y1="1429.1" x2="672.4" y2="1429.1" stroke="#000" stroke-width="2" />
<text transform="translate(660.2,1437.6) scale(1,1.05)" font-size="30" text-anchor="end" >0</text>
<line x1="668.4" y1="1345.1" x2="672.4" y2="1345.1" stroke="#000" stroke-width="2" />
<text transform="translate(660.2,1353.6) scale(1,1.05)" font-size="30" text-anchor="end" >1</text>
<line x1="668.4" y1="1261.0" x2="672.4" y2="1261.0" stroke="#000" stroke-width="2" />
<text transform="translate(660.2,1269.5) scale(1,1.05)" font-size="30" text-anchor="end" >2</text>
<line x1="668.4" y1="1177.0" x2="672.4" y2="1177.0" stroke="#000" stroke-width="2" />
<text transform="translate(660.2,1185.5) scale(1,1.05)" font-size="30" text-anchor="end" >3</text>
<line x1="668.4" y1="1093.0" x2="672.4" y2="1093.0" stroke="#000" stroke-width="2" />
<text transform="translate(660.2,1101.5) scale(1,1.05)" font-size="30" text-anchor="end" >4</text>
<line x1="668.4" y1="1429.1" x2="1008.2" y2="1429.1" stroke="#000" stroke-width="2" />
<line x1="672.3" y1="1429.1" x2="672.3" y2="1433.1" stroke="#000" stroke-width="2" />
<text transform="translate(667.7,1469.5) scale(1,1.05)" font-size="30" text-anchor="middle" >0</text>
<line x1="756.0" y1="1429.1" x2="756.0" y2="1433.1" stroke="#000" stroke-width="2" />
<text transform="translate(757.2,1469.5) scale(1,1.05)" font-size="30" text-anchor="middle" >12</text>
<line x1="840.0" y1="1429.1" x2="840.0" y2="1433.1" stroke="#000" stroke-width="2" />
<text transform="translate(841.2,1469.5) scale(1,1.05)" font-size="30" text-anchor="middle" >24</text>
<line x1="923.2" y1="1429.1" x2="923.2" y2="1433.1" stroke="#000" stroke-width="2" />
<text transform="translate(924.4,1469.5) scale(1,1.05)" font-size="30" text-anchor="middle" >36</text>
<line x1="1007.2" y1="1429.1" x2="1007.2" y2="1433.1" stroke="#000" stroke-width="2" />
<text transform="translate(1008.4,1469.5) scale(1,1.05)" font-size="30" text-anchor="middle" >48</text>
<text transform="translate(853.9,1509.0) scale(1,1.05)" font-size="30" text-anchor="middle" >Time (h)</text>
<text transform="translate(621.1,1264.5) rotate(-90) scale(1,1.05)" font-size="30" text-anchor="middle">Fold change in cell number</text>
<text transform="translate(686.9,1131.0) scale(1,1.05)" font-size="30" text-anchor="start" >MCF7</text>
<polyline points="672.3,1345.1 756.0,1313.6 840.0,1284.6 923.2,1245.9 1007.2,1223.7" fill="none" stroke="#8EA7CF" stroke-width="3.0" stroke-linejoin="round"/>
<polyline points="672.3,1345.1 756.0,1297.3 840.0,1254.6 923.2,1211.1 1007.2,1197.5" fill="none" stroke="#F0AE78" stroke-width="3.0" stroke-linejoin="round"/>
<polyline points="672.3,1345.1 756.0,1332.1 840.0,1321.1 923.2,1306.8 1007.2,1300.6" fill="none" stroke="#A0BA88" stroke-width="3.0" stroke-linejoin="round"/>
<line x1="756.0" y1="1311.1" x2="756.0" y2="1316.2" stroke="#000" stroke-width="1.5" />
<line x1="749.3" y1="1311.1" x2="762.7" y2="1311.1" stroke="#000" stroke-width="1.5" />
<line x1="749.3" y1="1316.2" x2="762.7" y2="1316.2" stroke="#000" stroke-width="1.5" />
<line x1="840.0" y1="1282.9" x2="840.0" y2="1286.3" stroke="#000" stroke-width="1.5" />
<line x1="833.3" y1="1282.9" x2="846.7" y2="1282.9" stroke="#000" stroke-width="1.5" />
<line x1="833.3" y1="1286.3" x2="846.7" y2="1286.3" stroke="#000" stroke-width="1.5" />
<line x1="923.2" y1="1243.4" x2="923.2" y2="1248.4" stroke="#000" stroke-width="1.5" />
<line x1="916.5" y1="1243.4" x2="929.9" y2="1243.4" stroke="#000" stroke-width="1.5" />
<line x1="916.5" y1="1248.4" x2="929.9" y2="1248.4" stroke="#000" stroke-width="1.5" />
<line x1="1000.5" y1="1223.7" x2="1013.9" y2="1223.7" stroke="#000" stroke-width="1.8" />
<line x1="756.0" y1="1293.1" x2="756.0" y2="1301.6" stroke="#000" stroke-width="1.5" />
<line x1="749.3" y1="1293.1" x2="762.7" y2="1293.1" stroke="#000" stroke-width="1.5" />
<line x1="749.3" y1="1301.6" x2="762.7" y2="1301.6" stroke="#000" stroke-width="1.5" />
<line x1="840.0" y1="1251.2" x2="840.0" y2="1257.9" stroke="#000" stroke-width="1.5" />
<line x1="833.3" y1="1251.2" x2="846.7" y2="1251.2" stroke="#000" stroke-width="1.5" />
<line x1="833.3" y1="1257.9" x2="846.7" y2="1257.9" stroke="#000" stroke-width="1.5" />
<line x1="923.2" y1="1208.6" x2="923.2" y2="1213.7" stroke="#000" stroke-width="1.5" />
<line x1="916.5" y1="1208.6" x2="929.9" y2="1208.6" stroke="#000" stroke-width="1.5" />
<line x1="916.5" y1="1213.7" x2="929.9" y2="1213.7" stroke="#000" stroke-width="1.5" />
<line x1="1007.2" y1="1195.8" x2="1007.2" y2="1199.2" stroke="#000" stroke-width="1.5" />
<line x1="1000.5" y1="1195.8" x2="1013.9" y2="1195.8" stroke="#000" stroke-width="1.5" />
<line x1="1000.5" y1="1199.2" x2="1013.9" y2="1199.2" stroke="#000" stroke-width="1.5" />
<line x1="756.0" y1="1327.8" x2="756.0" y2="1336.3" stroke="#000" stroke-width="1.5" />
<line x1="749.3" y1="1327.8" x2="762.7" y2="1327.8" stroke="#000" stroke-width="1.5" />
<line x1="749.3" y1="1336.3" x2="762.7" y2="1336.3" stroke="#000" stroke-width="1.5" />
<line x1="840.0" y1="1318.6" x2="840.0" y2="1323.6" stroke="#000" stroke-width="1.5" />
<line x1="833.3" y1="1318.6" x2="846.7" y2="1318.6" stroke="#000" stroke-width="1.5" />
<line x1="833.3" y1="1323.6" x2="846.7" y2="1323.6" stroke="#000" stroke-width="1.5" />
<line x1="916.5" y1="1306.8" x2="929.9" y2="1306.8" stroke="#000" stroke-width="1.8" />
<line x1="1000.5" y1="1300.6" x2="1013.9" y2="1300.6" stroke="#000" stroke-width="1.8" />
<line x1="672.3" y1="1342.8" x2="672.3" y2="1346.8" stroke="#000" stroke-width="1.5" />
<line x1="665.6" y1="1342.8" x2="679.0" y2="1342.8" stroke="#000" stroke-width="1.5" />
<line x1="665.6" y1="1346.8" x2="679.0" y2="1346.8" stroke="#000" stroke-width="1.5" />
<text x="756.2" y="1290.8" font-size="27" font-weight="bold" text-anchor="middle">*</text>
<text x="756.2" y="1365.8" font-size="27" font-weight="bold" text-anchor="middle">*</text>
<text x="839.8" y="1248.3" font-size="27" font-weight="bold" text-anchor="middle">*</text>
<text x="839.8" y="1318.3" font-size="27" font-weight="bold" text-anchor="middle">*</text>
<text x="923.8" y="1207.3" font-size="27" font-weight="bold" text-anchor="middle">*</text>
<text x="923.8" y="1304.6" font-size="27" font-weight="bold" text-anchor="middle">*</text>
<text x="1007.4" y="1193.0" font-size="27" font-weight="bold" text-anchor="middle">*</text>
<text x="1007.4" y="1297.8" font-size="27" font-weight="bold" text-anchor="middle">*</text>
<line x1="872.7" y1="1344.3" x2="901" y2="1344.3" stroke="#8EA7CF" stroke-width="3.6"/>
<text transform="translate(913.7,1355.0) scale(1,1.05)" font-size="30" text-anchor="start" >UT</text>
<line x1="872.7" y1="1382" x2="901" y2="1382" stroke="#F0AE78" stroke-width="3.6"/>
<text transform="translate(914.4,1390.0) scale(1,1.05)" font-size="30" text-anchor="start" >+MSH</text>
<line x1="872.7" y1="1414" x2="901" y2="1414" stroke="#A0BA88" stroke-width="3.6"/>
<text transform="translate(914.4,1420.0) scale(1,1.05)" font-size="30" text-anchor="start" >+MSG</text>
<text transform="translate(1148.0,1044.0) scale(1,1.0)" font-size="34" text-anchor="start" font-weight="bold" >i</text>
<line x1="1219.6" y1="1093.5" x2="1219.6" y2="1430.1" stroke="#000" stroke-width="2" />
<line x1="1215.6" y1="1429.1" x2="1219.6" y2="1429.1" stroke="#000" stroke-width="2" />
<text transform="translate(1207.4,1437.6) scale(1,1.05)" font-size="30" text-anchor="end" >0</text>
<line x1="1215.6" y1="1345.2" x2="1219.6" y2="1345.2" stroke="#000" stroke-width="2" />
<text transform="translate(1207.4,1353.7) scale(1,1.05)" font-size="30" text-anchor="end" >1</text>
<line x1="1215.6" y1="1261.3" x2="1219.6" y2="1261.3" stroke="#000" stroke-width="2" />
<text transform="translate(1207.4,1269.8) scale(1,1.05)" font-size="30" text-anchor="end" >2</text>
<line x1="1215.6" y1="1177.4" x2="1219.6" y2="1177.4" stroke="#000" stroke-width="2" />
<text transform="translate(1207.4,1185.9) scale(1,1.05)" font-size="30" text-anchor="end" >3</text>
<line x1="1215.6" y1="1093.5" x2="1219.6" y2="1093.5" stroke="#000" stroke-width="2" />
<text transform="translate(1207.4,1102.0) scale(1,1.05)" font-size="30" text-anchor="end" >4</text>
<line x1="1215.6" y1="1429.1" x2="1556.0" y2="1429.1" stroke="#000" stroke-width="2" />
<line x1="1219.5" y1="1429.1" x2="1219.5" y2="1433.1" stroke="#000" stroke-width="2" />
<text transform="translate(1214.9,1470.0) scale(1,1.05)" font-size="30" text-anchor="middle" >0</text>
<line x1="1303.1" y1="1429.1" x2="1303.1" y2="1433.1" stroke="#000" stroke-width="2" />
<text transform="translate(1304.3,1470.0) scale(1,1.05)" font-size="30" text-anchor="middle" >12</text>
<line x1="1387.0" y1="1429.1" x2="1387.0" y2="1433.1" stroke="#000" stroke-width="2" />
<text transform="translate(1388.2,1470.0) scale(1,1.05)" font-size="30" text-anchor="middle" >24</text>
<line x1="1470.8" y1="1429.1" x2="1470.8" y2="1433.1" stroke="#000" stroke-width="2" />
<text transform="translate(1472.0,1470.0) scale(1,1.05)" font-size="30" text-anchor="middle" >36</text>
<line x1="1555.0" y1="1429.1" x2="1555.0" y2="1433.1" stroke="#000" stroke-width="2" />
<text transform="translate(1556.2,1470.0) scale(1,1.05)" font-size="30" text-anchor="middle" >48</text>
<text transform="translate(1401.1,1509.0) scale(1,1.05)" font-size="30" text-anchor="middle" >Time (h)</text>
<text transform="translate(1168.0,1265.5) rotate(-90) scale(1,1.05)" font-size="30" text-anchor="middle">Fold change in cell number</text>
<text transform="translate(0.0,0.0) scale(1,1.05)" font-size="30" text-anchor="start" ></text>
<polyline points="1219.5,1345.2 1303.1,1289.8 1387.0,1242.0 1470.8,1192.5 1555.0,1172.9" fill="none" stroke="#A0BA88" stroke-width="3.3" stroke-linejoin="round"/>
<polyline points="1219.5,1345.2 1303.1,1287.1 1387.0,1240.7 1470.8,1188.1 1555.0,1162.8" fill="none" stroke="#8EA7CF" stroke-width="3.3" stroke-linejoin="round"/>
<polyline points="1219.5,1345.2 1303.1,1349.4 1387.0,1329.7 1470.8,1288.8 1555.0,1238.8" fill="none" stroke="#F1A9B3" stroke-width="3.3" stroke-linejoin="round"/>
<polyline points="1219.5,1345.2 1303.1,1346.4 1387.0,1325.3 1470.8,1272.2 1555.0,1209.3" fill="none" stroke="#F0AE78" stroke-width="3.3" stroke-linejoin="round"/>
<polyline points="1219.5,1345.2 1303.1,1261.3 1387.0,1206.8 1470.8,1139.8 1555.0,1115.3" fill="none" stroke="#A0BA88" stroke-width="3.3" stroke-linejoin="round" stroke-dasharray="6.5,10.4" stroke-linecap="round"/>
<polyline points="1219.5,1345.2 1303.1,1259.2 1387.0,1204.7 1470.8,1132.9 1555.0,1104.6" fill="none" stroke="#8EA7CF" stroke-width="3.3" stroke-linejoin="round" stroke-dasharray="6.5,10.4" stroke-linecap="round"/>
<polyline points="1219.5,1345.2 1303.1,1348.6 1387.0,1328.4 1470.8,1287.3 1555.0,1237.8" fill="none" stroke="#F1A9B3" stroke-width="3.3" stroke-linejoin="round" stroke-dasharray="6.5,10.4" stroke-linecap="round"/>
<polyline points="1219.5,1345.2 1303.1,1345.2 1387.0,1325.1 1470.8,1269.7 1555.0,1207.6" fill="none" stroke="#F0AE78" stroke-width="3.3" stroke-linejoin="round" stroke-dasharray="6.5,10.4" stroke-linecap="round"/>
<line x1="1303.1" y1="1288.1" x2="1303.1" y2="1291.5" stroke="#000" stroke-width="1.5" />
<line x1="1296.4" y1="1288.1" x2="1309.8" y2="1288.1" stroke="#000" stroke-width="1.5" />
<line x1="1296.4" y1="1291.5" x2="1309.8" y2="1291.5" stroke="#000" stroke-width="1.5" />
<line x1="1387.0" y1="1240.3" x2="1387.0" y2="1243.7" stroke="#000" stroke-width="1.5" />
<line x1="1380.3" y1="1240.3" x2="1393.7" y2="1240.3" stroke="#000" stroke-width="1.5" />
<line x1="1380.3" y1="1243.7" x2="1393.7" y2="1243.7" stroke="#000" stroke-width="1.5" />
<line x1="1470.8" y1="1190.8" x2="1470.8" y2="1194.2" stroke="#000" stroke-width="1.5" />
<line x1="1464.1" y1="1190.8" x2="1477.5" y2="1190.8" stroke="#000" stroke-width="1.5" />
<line x1="1464.1" y1="1194.2" x2="1477.5" y2="1194.2" stroke="#000" stroke-width="1.5" />
<line x1="1548.3" y1="1172.9" x2="1561.7" y2="1172.9" stroke="#000" stroke-width="1.8" />
<line x1="1303.1" y1="1284.5" x2="1303.1" y2="1289.6" stroke="#000" stroke-width="1.5" />
<line x1="1296.4" y1="1284.5" x2="1309.8" y2="1284.5" stroke="#000" stroke-width="1.5" />
<line x1="1296.4" y1="1289.6" x2="1309.8" y2="1289.6" stroke="#000" stroke-width="1.5" />
<line x1="1387.0" y1="1239.1" x2="1387.0" y2="1242.4" stroke="#000" stroke-width="1.5" />
<line x1="1380.3" y1="1239.1" x2="1393.7" y2="1239.1" stroke="#000" stroke-width="1.5" />
<line x1="1380.3" y1="1242.4" x2="1393.7" y2="1242.4" stroke="#000" stroke-width="1.5" />
<line x1="1470.8" y1="1186.4" x2="1470.8" y2="1189.7" stroke="#000" stroke-width="1.5" />
<line x1="1464.1" y1="1186.4" x2="1477.5" y2="1186.4" stroke="#000" stroke-width="1.5" />
<line x1="1464.1" y1="1189.7" x2="1477.5" y2="1189.7" stroke="#000" stroke-width="1.5" />
<line x1="1548.3" y1="1162.8" x2="1561.7" y2="1162.8" stroke="#000" stroke-width="1.8" />
<line x1="1303.1" y1="1347.7" x2="1303.1" y2="1351.1" stroke="#000" stroke-width="1.5" />
<line x1="1296.4" y1="1347.7" x2="1309.8" y2="1347.7" stroke="#000" stroke-width="1.5" />
<line x1="1296.4" y1="1351.1" x2="1309.8" y2="1351.1" stroke="#000" stroke-width="1.5" />
<line x1="1387.0" y1="1328.0" x2="1387.0" y2="1331.4" stroke="#000" stroke-width="1.5" />
<line x1="1380.3" y1="1328.0" x2="1393.7" y2="1328.0" stroke="#000" stroke-width="1.5" />
<line x1="1380.3" y1="1331.4" x2="1393.7" y2="1331.4" stroke="#000" stroke-width="1.5" />
<line x1="1470.8" y1="1287.1" x2="1470.8" y2="1290.5" stroke="#000" stroke-width="1.5" />
<line x1="1464.1" y1="1287.1" x2="1477.5" y2="1287.1" stroke="#000" stroke-width="1.5" />
<line x1="1464.1" y1="1290.5" x2="1477.5" y2="1290.5" stroke="#000" stroke-width="1.5" />
<line x1="1555.0" y1="1237.1" x2="1555.0" y2="1240.5" stroke="#000" stroke-width="1.5" />
<line x1="1548.3" y1="1237.1" x2="1561.7" y2="1237.1" stroke="#000" stroke-width="1.5" />
<line x1="1548.3" y1="1240.5" x2="1561.7" y2="1240.5" stroke="#000" stroke-width="1.5" />
<line x1="1303.1" y1="1344.7" x2="1303.1" y2="1348.1" stroke="#000" stroke-width="1.5" />
<line x1="1296.4" y1="1344.7" x2="1309.8" y2="1344.7" stroke="#000" stroke-width="1.5" />
<line x1="1296.4" y1="1348.1" x2="1309.8" y2="1348.1" stroke="#000" stroke-width="1.5" />
<line x1="1387.0" y1="1323.6" x2="1387.0" y2="1327.0" stroke="#000" stroke-width="1.5" />
<line x1="1380.3" y1="1323.6" x2="1393.7" y2="1323.6" stroke="#000" stroke-width="1.5" />
<line x1="1380.3" y1="1327.0" x2="1393.7" y2="1327.0" stroke="#000" stroke-width="1.5" />
<line x1="1470.8" y1="1268.0" x2="1470.8" y2="1276.4" stroke="#000" stroke-width="1.5" />
<line x1="1464.1" y1="1268.0" x2="1477.5" y2="1268.0" stroke="#000" stroke-width="1.5" />
<line x1="1464.1" y1="1276.4" x2="1477.5" y2="1276.4" stroke="#000" stroke-width="1.5" />
<line x1="1555.0" y1="1207.6" x2="1555.0" y2="1211.0" stroke="#000" stroke-width="1.5" />
<line x1="1548.3" y1="1207.6" x2="1561.7" y2="1207.6" stroke="#000" stroke-width="1.5" />
<line x1="1548.3" y1="1211.0" x2="1561.7" y2="1211.0" stroke="#000" stroke-width="1.5" />
<line x1="1303.1" y1="1259.6" x2="1303.1" y2="1263.0" stroke="#000" stroke-width="1.5" />
<line x1="1296.4" y1="1259.6" x2="1309.8" y2="1259.6" stroke="#000" stroke-width="1.5" />
<line x1="1296.4" y1="1263.0" x2="1309.8" y2="1263.0" stroke="#000" stroke-width="1.5" />
<line x1="1387.0" y1="1205.1" x2="1387.0" y2="1208.4" stroke="#000" stroke-width="1.5" />
<line x1="1380.3" y1="1205.1" x2="1393.7" y2="1205.1" stroke="#000" stroke-width="1.5" />
<line x1="1380.3" y1="1208.4" x2="1393.7" y2="1208.4" stroke="#000" stroke-width="1.5" />
<line x1="1470.8" y1="1138.1" x2="1470.8" y2="1141.5" stroke="#000" stroke-width="1.5" />
<line x1="1464.1" y1="1138.1" x2="1477.5" y2="1138.1" stroke="#000" stroke-width="1.5" />
<line x1="1464.1" y1="1141.5" x2="1477.5" y2="1141.5" stroke="#000" stroke-width="1.5" />
<line x1="1548.3" y1="1115.3" x2="1561.7" y2="1115.3" stroke="#000" stroke-width="1.8" />
<line x1="1303.1" y1="1256.7" x2="1303.1" y2="1261.7" stroke="#000" stroke-width="1.5" />
<line x1="1296.4" y1="1256.7" x2="1309.8" y2="1256.7" stroke="#000" stroke-width="1.5" />
<line x1="1296.4" y1="1261.7" x2="1309.8" y2="1261.7" stroke="#000" stroke-width="1.5" />
<line x1="1387.0" y1="1203.0" x2="1387.0" y2="1206.3" stroke="#000" stroke-width="1.5" />
<line x1="1380.3" y1="1203.0" x2="1393.7" y2="1203.0" stroke="#000" stroke-width="1.5" />
<line x1="1380.3" y1="1206.3" x2="1393.7" y2="1206.3" stroke="#000" stroke-width="1.5" />
<line x1="1470.8" y1="1130.4" x2="1470.8" y2="1135.5" stroke="#000" stroke-width="1.5" />
<line x1="1464.1" y1="1130.4" x2="1477.5" y2="1130.4" stroke="#000" stroke-width="1.5" />
<line x1="1464.1" y1="1135.5" x2="1477.5" y2="1135.5" stroke="#000" stroke-width="1.5" />
<line x1="1548.3" y1="1104.6" x2="1561.7" y2="1104.6" stroke="#000" stroke-width="1.8" />
<line x1="1303.1" y1="1346.9" x2="1303.1" y2="1350.2" stroke="#000" stroke-width="1.5" />
<line x1="1296.4" y1="1346.9" x2="1309.8" y2="1346.9" stroke="#000" stroke-width="1.5" />
<line x1="1296.4" y1="1350.2" x2="1309.8" y2="1350.2" stroke="#000" stroke-width="1.5" />
<line x1="1387.0" y1="1326.7" x2="1387.0" y2="1330.1" stroke="#000" stroke-width="1.5" />
<line x1="1380.3" y1="1326.7" x2="1393.7" y2="1326.7" stroke="#000" stroke-width="1.5" />
<line x1="1380.3" y1="1330.1" x2="1393.7" y2="1330.1" stroke="#000" stroke-width="1.5" />
<line x1="1470.8" y1="1285.6" x2="1470.8" y2="1289.0" stroke="#000" stroke-width="1.5" />
<line x1="1464.1" y1="1285.6" x2="1477.5" y2="1285.6" stroke="#000" stroke-width="1.5" />
<line x1="1464.1" y1="1289.0" x2="1477.5" y2="1289.0" stroke="#000" stroke-width="1.5" />
<line x1="1555.0" y1="1236.1" x2="1555.0" y2="1239.5" stroke="#000" stroke-width="1.5" />
<line x1="1548.3" y1="1236.1" x2="1561.7" y2="1236.1" stroke="#000" stroke-width="1.5" />
<line x1="1548.3" y1="1239.5" x2="1561.7" y2="1239.5" stroke="#000" stroke-width="1.5" />
<line x1="1303.1" y1="1343.5" x2="1303.1" y2="1346.9" stroke="#000" stroke-width="1.5" />
<line x1="1296.4" y1="1343.5" x2="1309.8" y2="1343.5" stroke="#000" stroke-width="1.5" />
<line x1="1296.4" y1="1346.9" x2="1309.8" y2="1346.9" stroke="#000" stroke-width="1.5" />
<line x1="1387.0" y1="1323.4" x2="1387.0" y2="1326.7" stroke="#000" stroke-width="1.5" />
<line x1="1380.3" y1="1323.4" x2="1393.7" y2="1323.4" stroke="#000" stroke-width="1.5" />
<line x1="1380.3" y1="1326.7" x2="1393.7" y2="1326.7" stroke="#000" stroke-width="1.5" />
<line x1="1470.8" y1="1268.0" x2="1470.8" y2="1271.4" stroke="#000" stroke-width="1.5" />
<line x1="1464.1" y1="1268.0" x2="1477.5" y2="1268.0" stroke="#000" stroke-width="1.5" />
<line x1="1464.1" y1="1271.4" x2="1477.5" y2="1271.4" stroke="#000" stroke-width="1.5" />
<line x1="1555.0" y1="1205.9" x2="1555.0" y2="1209.3" stroke="#000" stroke-width="1.5" />
<line x1="1548.3" y1="1205.9" x2="1561.7" y2="1205.9" stroke="#000" stroke-width="1.5" />
<line x1="1548.3" y1="1209.3" x2="1561.7" y2="1209.3" stroke="#000" stroke-width="1.5" />
<line x1="1219.5" y1="1337.2" x2="1219.5" y2="1351.3" stroke="#000" stroke-width="1.5" />
<line x1="1212.8" y1="1337.2" x2="1226.2" y2="1337.2" stroke="#000" stroke-width="1.5" />
<line x1="1212.8" y1="1340.2" x2="1226.2" y2="1340.2" stroke="#000" stroke-width="1.5" />
<line x1="1212.8" y1="1342.8" x2="1226.2" y2="1342.8" stroke="#000" stroke-width="1.5" />
<line x1="1212.8" y1="1345.5" x2="1226.2" y2="1345.5" stroke="#000" stroke-width="1.5" />
<line x1="1212.8" y1="1348.6" x2="1226.2" y2="1348.6" stroke="#000" stroke-width="1.5" />
<line x1="1212.8" y1="1351.3" x2="1226.2" y2="1351.3" stroke="#000" stroke-width="1.5" />
<text x="1303.2" y="1252.4" font-size="27" font-weight="bold" text-anchor="middle">*</text>
<text x="1303.2" y="1343.4" font-size="27" font-weight="bold" text-anchor="middle">*</text>
<text x="1303.2" y="1375.0" font-size="27" font-weight="bold" text-anchor="middle">*</text>
<text x="1387.1" y="1202.2" font-size="27" font-weight="bold" text-anchor="middle">*</text>
<text x="1387.1" y="1324.8" font-size="27" font-weight="bold" text-anchor="middle">*</text>
<text x="1387.1" y="1360.1" font-size="27" font-weight="bold" text-anchor="middle">*</text>
<text x="1470.7" y="1133.5" font-size="27" font-weight="bold" text-anchor="middle">*</text>
<text x="1470.7" y="1268.4" font-size="27" font-weight="bold" text-anchor="middle">*</text>
<text x="1470.7" y="1315.5" font-size="27" font-weight="bold" text-anchor="middle">*</text>
<text x="1555.0" y="1105.7" font-size="27" font-weight="bold" text-anchor="middle">*</text>
<text x="1555.0" y="1207.8" font-size="27" font-weight="bold" text-anchor="middle">*</text>
<text x="1555.0" y="1242.4" font-size="27" font-weight="bold" text-anchor="middle">*</text>
<line x1="1566.2" y1="1165.6" x2="1595.5" y2="1165.6" stroke="#8EA7CF" stroke-width="2.6"/>
<text transform="translate(1601.7,1176.0) scale(1,1.05)" font-size="30" text-anchor="start" >T-47d WT</text>
<line x1="1566.2" y1="1201.4" x2="1595.5" y2="1201.4" stroke="#A0BA88" stroke-width="2.6"/>
<text transform="translate(1601.7,1212.0) scale(1,1.05)" font-size="30" text-anchor="start" >T-47d VC</text>
<line x1="1566.2" y1="1237" x2="1595.5" y2="1237" stroke="#F0AE78" stroke-width="2.6"/>
<text transform="translate(1601.7,1247.4) scale(1,1.05)" font-size="30" text-anchor="start" >MC1R Sh1</text>
<line x1="1566.2" y1="1272.6" x2="1595.5" y2="1272.6" stroke="#F1A9B3" stroke-width="2.6"/>
<text transform="translate(1601.7,1283.4) scale(1,1.05)" font-size="30" text-anchor="start" >MC1R Sh2</text>
<line x1="1567.5" y1="1308.2" x2="1594.2" y2="1308.2" stroke="#8EA7CF" stroke-width="2.6" stroke-dasharray="5.2,5.6" stroke-linecap="round"/>
<text transform="translate(1601.7,1319.2) scale(1,1.05)" font-size="30" text-anchor="start" >WT+MSH</text>
<line x1="1567.5" y1="1344" x2="1594.2" y2="1344" stroke="#A0BA88" stroke-width="2.6" stroke-dasharray="5.2,5.6" stroke-linecap="round"/>
<text transform="translate(1601.7,1355.2) scale(1,1.05)" font-size="30" text-anchor="start" >VC+MSH</text>
<line x1="1567.5" y1="1379.8" x2="1594.2" y2="1379.8" stroke="#F0AE78" stroke-width="2.6" stroke-dasharray="5.2,5.6" stroke-linecap="round"/>
<text transform="translate(1601.7,1390.6) scale(1,1.05)" font-size="30" text-anchor="start" >Sh1+MSH</text>
<line x1="1567.5" y1="1415.6" x2="1594.2" y2="1415.6" stroke="#F1A9B3" stroke-width="2.6" stroke-dasharray="5.2,5.6" stroke-linecap="round"/>
<text transform="translate(1601.7,1426.2) scale(1,1.05)" font-size="30" text-anchor="start" >Sh2+MSH</text>
</svg>
</body></html>
